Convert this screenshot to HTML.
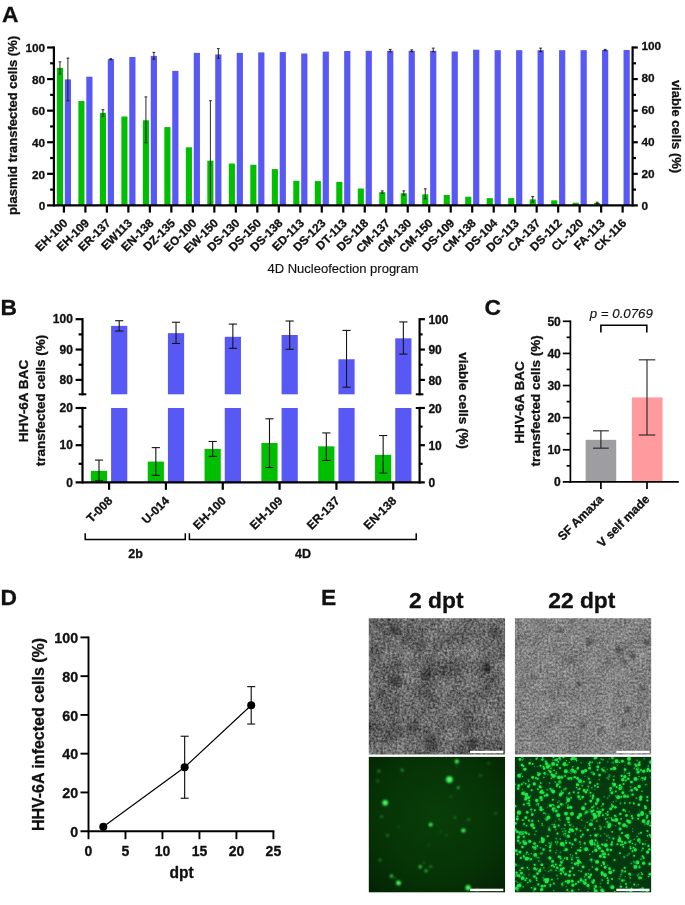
<!DOCTYPE html>
<html lang="en">
<head>
<meta charset="utf-8">
<title>Figure</title>
<style>
html,body{margin:0;padding:0;background:#fff;}
body{width:685px;height:905px;overflow:hidden;}
svg{display:block;will-change:transform;}
svg text{font-family:"Liberation Sans",sans-serif;fill:#111;stroke:#111;stroke-width:0.3px;stroke-linejoin:round;}
svg text.r{stroke-width:0.15px;}
</style>
</head>
<body>
<svg width="685" height="905" viewBox="0 0 685 905">
<rect x="0" y="0" width="685" height="905" fill="#fff"/>
<defs>
<filter id="noiseA" x="0" y="0" width="100%" height="100%" color-interpolation-filters="sRGB">
  <feTurbulence type="fractalNoise" baseFrequency="0.42" numOctaves="2" seed="3"/>
  <feColorMatrix type="matrix" values="0.6 0 0 0 -0.045  0.6 0 0 0 -0.045  0.6 0 0 0 -0.045  0 0 0 0 1" result="hi"/>
  <feTurbulence type="fractalNoise" baseFrequency="0.05" numOctaves="2" seed="8"/>
  <feColorMatrix type="matrix" values="0 0.3 0 0 0  0 0.3 0 0 0  0 0.3 0 0 0  0 0 0 0 1" result="lo"/>
  <feComposite in="hi" in2="lo" operator="arithmetic" k1="0" k2="1" k3="1" k4="0"/>
</filter>
<filter id="noiseB" x="0" y="0" width="100%" height="100%" color-interpolation-filters="sRGB">
  <feTurbulence type="fractalNoise" baseFrequency="0.45" numOctaves="2" seed="11"/>
  <feColorMatrix type="matrix" values="0.5 0 0 0 0.175  0.5 0 0 0 0.175  0.5 0 0 0 0.175  0 0 0 0 1" result="hi"/>
  <feTurbulence type="fractalNoise" baseFrequency="0.06" numOctaves="2" seed="5"/>
  <feColorMatrix type="matrix" values="0 0.16 0 0 0  0 0.16 0 0 0  0 0.16 0 0 0  0 0 0 0 1" result="lo"/>
  <feComposite in="hi" in2="lo" operator="arithmetic" k1="0" k2="1" k3="1" k4="0"/>
</filter>
<filter id="soft" x="-5%" y="-5%" width="110%" height="110%"><feGaussianBlur stdDeviation="1.6"/></filter>
<filter id="glow" x="-5%" y="-5%" width="110%" height="110%"><feGaussianBlur stdDeviation="0.9"/></filter>
<filter id="glow2" x="-5%" y="-5%" width="110%" height="110%"><feGaussianBlur in="SourceGraphic" stdDeviation="1.3" result="b"/><feComponentTransfer in="b" result="b2"><feFuncA type="linear" slope="0.55"/></feComponentTransfer><feGaussianBlur in="SourceGraphic" stdDeviation="0.5" result="a"/><feMerge><feMergeNode in="b2"/><feMergeNode in="a"/></feMerge></filter>
<radialGradient id="gbgA" cx="50%" cy="45%" r="75%">
  <stop offset="0" stop-color="#083d08"/><stop offset="0.6" stop-color="#063306"/><stop offset="1" stop-color="#042204"/>
</radialGradient>
<clipPath id="clipTL"><rect x="368.8" y="618.3" width="136.25" height="136.1"/></clipPath>
<clipPath id="clipTR"><rect x="514.9" y="618.3" width="136.25" height="136.1"/></clipPath>
<clipPath id="clipBR"><rect x="514.9" y="756.9" width="136.25" height="135.4"/></clipPath>
</defs>
<g id="panelA">
<text x="2" y="21.7" font-size="22.8" font-weight="bold" text-anchor="start">A</text>
<rect x="56.9" y="67.87" width="6.1" height="137.53" fill="#00be00"/>
<rect x="64.8" y="79.4" width="6.2" height="126" fill="#5858f5"/>
<rect x="78.39" y="101.03" width="6.1" height="104.37" fill="#00be00"/>
<rect x="86.29" y="76.71" width="6.2" height="128.69" fill="#5858f5"/>
<rect x="99.88" y="112.87" width="6.1" height="92.53" fill="#00be00"/>
<rect x="107.78" y="59.18" width="6.2" height="146.22" fill="#5858f5"/>
<rect x="121.37" y="116.5" width="6.1" height="88.9" fill="#00be00"/>
<rect x="129.27" y="56.97" width="6.2" height="148.43" fill="#5858f5"/>
<rect x="142.86" y="120.29" width="6.1" height="85.11" fill="#00be00"/>
<rect x="150.76" y="55.87" width="6.2" height="149.53" fill="#5858f5"/>
<rect x="164.35" y="127.08" width="6.1" height="78.32" fill="#00be00"/>
<rect x="172.25" y="70.87" width="6.2" height="134.53" fill="#5858f5"/>
<rect x="185.84" y="147.29" width="6.1" height="58.11" fill="#00be00"/>
<rect x="193.74" y="52.87" width="6.2" height="152.53" fill="#5858f5"/>
<rect x="207.33" y="160.71" width="6.1" height="44.69" fill="#00be00"/>
<rect x="215.23" y="54.45" width="6.2" height="150.95" fill="#5858f5"/>
<rect x="228.82" y="163.56" width="6.1" height="41.84" fill="#00be00"/>
<rect x="236.72" y="52.87" width="6.2" height="152.53" fill="#5858f5"/>
<rect x="250.31" y="164.82" width="6.1" height="40.58" fill="#00be00"/>
<rect x="258.21" y="52.39" width="6.2" height="153.01" fill="#5858f5"/>
<rect x="271.8" y="169.08" width="6.1" height="36.32" fill="#00be00"/>
<rect x="279.7" y="52.08" width="6.2" height="153.32" fill="#5858f5"/>
<rect x="293.29" y="180.77" width="6.1" height="24.63" fill="#00be00"/>
<rect x="301.19" y="53.5" width="6.2" height="151.9" fill="#5858f5"/>
<rect x="314.78" y="181.08" width="6.1" height="24.32" fill="#00be00"/>
<rect x="322.68" y="51.61" width="6.2" height="153.79" fill="#5858f5"/>
<rect x="336.27" y="181.87" width="6.1" height="23.53" fill="#00be00"/>
<rect x="344.17" y="50.97" width="6.2" height="154.43" fill="#5858f5"/>
<rect x="357.76" y="188.5" width="6.1" height="16.9" fill="#00be00"/>
<rect x="365.66" y="50.82" width="6.2" height="154.58" fill="#5858f5"/>
<rect x="379.25" y="192.14" width="6.1" height="13.26" fill="#00be00"/>
<rect x="387.15" y="50.82" width="6.2" height="154.58" fill="#5858f5"/>
<rect x="400.74" y="193.24" width="6.1" height="12.16" fill="#00be00"/>
<rect x="408.64" y="50.82" width="6.2" height="154.58" fill="#5858f5"/>
<rect x="422.23" y="194.35" width="6.1" height="11.05" fill="#00be00"/>
<rect x="430.13" y="50.82" width="6.2" height="154.58" fill="#5858f5"/>
<rect x="443.72" y="194.98" width="6.1" height="10.42" fill="#00be00"/>
<rect x="451.62" y="51.45" width="6.2" height="153.95" fill="#5858f5"/>
<rect x="465.21" y="196.72" width="6.1" height="8.68" fill="#00be00"/>
<rect x="473.11" y="49.71" width="6.2" height="155.69" fill="#5858f5"/>
<rect x="486.7" y="198.14" width="6.1" height="7.26" fill="#00be00"/>
<rect x="494.6" y="50.18" width="6.2" height="155.22" fill="#5858f5"/>
<rect x="508.19" y="198.14" width="6.1" height="7.26" fill="#00be00"/>
<rect x="516.09" y="50.18" width="6.2" height="155.22" fill="#5858f5"/>
<rect x="529.68" y="199.4" width="6.1" height="6" fill="#00be00"/>
<rect x="537.58" y="50.18" width="6.2" height="155.22" fill="#5858f5"/>
<rect x="551.17" y="200.35" width="6.1" height="5.05" fill="#00be00"/>
<rect x="559.07" y="50.18" width="6.2" height="155.22" fill="#5858f5"/>
<rect x="572.66" y="202.72" width="6.1" height="2.68" fill="#00be00"/>
<rect x="580.56" y="50.18" width="6.2" height="155.22" fill="#5858f5"/>
<rect x="594.15" y="202.87" width="6.1" height="2.53" fill="#00be00"/>
<rect x="602.05" y="50.03" width="6.2" height="155.37" fill="#5858f5"/>
<rect x="623.54" y="50.03" width="6.2" height="155.37" fill="#5858f5"/>
<line x1="59.95" y1="61.87" x2="59.95" y2="73.87" stroke="#141414" stroke-width="0.9" stroke-linecap="butt"/>
<line x1="58.55" y1="61.87" x2="61.35" y2="61.87" stroke="#141414" stroke-width="0.9" stroke-linecap="butt"/>
<line x1="58.55" y1="73.87" x2="61.35" y2="73.87" stroke="#141414" stroke-width="0.9" stroke-linecap="butt"/>
<line x1="102.93" y1="109.71" x2="102.93" y2="116.5" stroke="#141414" stroke-width="0.9" stroke-linecap="butt"/>
<line x1="101.53" y1="109.71" x2="104.33" y2="109.71" stroke="#141414" stroke-width="0.9" stroke-linecap="butt"/>
<line x1="101.53" y1="116.5" x2="104.33" y2="116.5" stroke="#141414" stroke-width="0.9" stroke-linecap="butt"/>
<line x1="145.91" y1="96.92" x2="145.91" y2="142.87" stroke="#141414" stroke-width="0.9" stroke-linecap="butt"/>
<line x1="144.51" y1="96.92" x2="147.31" y2="96.92" stroke="#141414" stroke-width="0.9" stroke-linecap="butt"/>
<line x1="144.51" y1="142.87" x2="147.31" y2="142.87" stroke="#141414" stroke-width="0.9" stroke-linecap="butt"/>
<line x1="210.38" y1="100.71" x2="210.38" y2="205.4" stroke="#141414" stroke-width="0.9" stroke-linecap="butt"/>
<line x1="208.98" y1="100.71" x2="211.78" y2="100.71" stroke="#141414" stroke-width="0.9" stroke-linecap="butt"/>
<line x1="382.3" y1="190.87" x2="382.3" y2="193.4" stroke="#141414" stroke-width="0.9" stroke-linecap="butt"/>
<line x1="380.9" y1="190.87" x2="383.7" y2="190.87" stroke="#141414" stroke-width="0.9" stroke-linecap="butt"/>
<line x1="380.9" y1="193.4" x2="383.7" y2="193.4" stroke="#141414" stroke-width="0.9" stroke-linecap="butt"/>
<line x1="403.79" y1="190.87" x2="403.79" y2="194.98" stroke="#141414" stroke-width="0.9" stroke-linecap="butt"/>
<line x1="402.39" y1="190.87" x2="405.19" y2="190.87" stroke="#141414" stroke-width="0.9" stroke-linecap="butt"/>
<line x1="402.39" y1="194.98" x2="405.19" y2="194.98" stroke="#141414" stroke-width="0.9" stroke-linecap="butt"/>
<line x1="425.28" y1="188.82" x2="425.28" y2="198.77" stroke="#141414" stroke-width="0.9" stroke-linecap="butt"/>
<line x1="423.88" y1="188.82" x2="426.68" y2="188.82" stroke="#141414" stroke-width="0.9" stroke-linecap="butt"/>
<line x1="423.88" y1="198.77" x2="426.68" y2="198.77" stroke="#141414" stroke-width="0.9" stroke-linecap="butt"/>
<line x1="532.73" y1="196.56" x2="532.73" y2="201.93" stroke="#141414" stroke-width="0.9" stroke-linecap="butt"/>
<line x1="531.33" y1="196.56" x2="534.13" y2="196.56" stroke="#141414" stroke-width="0.9" stroke-linecap="butt"/>
<line x1="531.33" y1="201.93" x2="534.13" y2="201.93" stroke="#141414" stroke-width="0.9" stroke-linecap="butt"/>
<line x1="597.2" y1="202.24" x2="597.2" y2="203.51" stroke="#141414" stroke-width="0.9" stroke-linecap="butt"/>
<line x1="595.8" y1="202.24" x2="598.6" y2="202.24" stroke="#141414" stroke-width="0.9" stroke-linecap="butt"/>
<line x1="595.8" y1="203.51" x2="598.6" y2="203.51" stroke="#141414" stroke-width="0.9" stroke-linecap="butt"/>
<line x1="67.9" y1="58.08" x2="67.9" y2="100.87" stroke="#141414" stroke-width="0.9" stroke-linecap="butt"/>
<line x1="66.5" y1="58.08" x2="69.3" y2="58.08" stroke="#141414" stroke-width="0.9" stroke-linecap="butt"/>
<line x1="66.5" y1="100.87" x2="69.3" y2="100.87" stroke="#141414" stroke-width="0.9" stroke-linecap="butt"/>
<line x1="110.88" y1="58.71" x2="110.88" y2="59.66" stroke="#141414" stroke-width="0.9" stroke-linecap="butt"/>
<line x1="109.48" y1="58.71" x2="112.28" y2="58.71" stroke="#141414" stroke-width="0.9" stroke-linecap="butt"/>
<line x1="109.48" y1="59.66" x2="112.28" y2="59.66" stroke="#141414" stroke-width="0.9" stroke-linecap="butt"/>
<line x1="153.86" y1="52.39" x2="153.86" y2="59.18" stroke="#141414" stroke-width="0.9" stroke-linecap="butt"/>
<line x1="152.46" y1="52.39" x2="155.26" y2="52.39" stroke="#141414" stroke-width="0.9" stroke-linecap="butt"/>
<line x1="152.46" y1="59.18" x2="155.26" y2="59.18" stroke="#141414" stroke-width="0.9" stroke-linecap="butt"/>
<line x1="218.33" y1="48.61" x2="218.33" y2="58.24" stroke="#141414" stroke-width="0.9" stroke-linecap="butt"/>
<line x1="216.93" y1="48.61" x2="219.73" y2="48.61" stroke="#141414" stroke-width="0.9" stroke-linecap="butt"/>
<line x1="216.93" y1="58.24" x2="219.73" y2="58.24" stroke="#141414" stroke-width="0.9" stroke-linecap="butt"/>
<line x1="390.25" y1="49.39" x2="390.25" y2="51.76" stroke="#141414" stroke-width="0.9" stroke-linecap="butt"/>
<line x1="388.85" y1="49.39" x2="391.65" y2="49.39" stroke="#141414" stroke-width="0.9" stroke-linecap="butt"/>
<line x1="388.85" y1="51.76" x2="391.65" y2="51.76" stroke="#141414" stroke-width="0.9" stroke-linecap="butt"/>
<line x1="411.74" y1="49.87" x2="411.74" y2="51.61" stroke="#141414" stroke-width="0.9" stroke-linecap="butt"/>
<line x1="410.34" y1="49.87" x2="413.14" y2="49.87" stroke="#141414" stroke-width="0.9" stroke-linecap="butt"/>
<line x1="410.34" y1="51.61" x2="413.14" y2="51.61" stroke="#141414" stroke-width="0.9" stroke-linecap="butt"/>
<line x1="433.23" y1="48.13" x2="433.23" y2="51.76" stroke="#141414" stroke-width="0.9" stroke-linecap="butt"/>
<line x1="431.83" y1="48.13" x2="434.63" y2="48.13" stroke="#141414" stroke-width="0.9" stroke-linecap="butt"/>
<line x1="431.83" y1="51.76" x2="434.63" y2="51.76" stroke="#141414" stroke-width="0.9" stroke-linecap="butt"/>
<line x1="540.68" y1="48.13" x2="540.68" y2="51.61" stroke="#141414" stroke-width="0.9" stroke-linecap="butt"/>
<line x1="539.28" y1="48.13" x2="542.08" y2="48.13" stroke="#141414" stroke-width="0.9" stroke-linecap="butt"/>
<line x1="539.28" y1="51.61" x2="542.08" y2="51.61" stroke="#141414" stroke-width="0.9" stroke-linecap="butt"/>
<line x1="605.15" y1="49.39" x2="605.15" y2="50.66" stroke="#141414" stroke-width="0.9" stroke-linecap="butt"/>
<line x1="603.75" y1="49.39" x2="606.55" y2="49.39" stroke="#141414" stroke-width="0.9" stroke-linecap="butt"/>
<line x1="603.75" y1="50.66" x2="606.55" y2="50.66" stroke="#141414" stroke-width="0.9" stroke-linecap="butt"/>
<line x1="53.9" y1="46.4" x2="53.9" y2="206.5" stroke="#000" stroke-width="2.2" stroke-linecap="butt"/>
<line x1="632.6" y1="46.4" x2="632.6" y2="206.5" stroke="#000" stroke-width="2.2" stroke-linecap="butt"/>
<line x1="47.1" y1="205.4" x2="637.8" y2="205.4" stroke="#000" stroke-width="2.2" stroke-linecap="butt"/>
<text x="45.2" y="210.3" font-size="11.8" font-weight="bold" text-anchor="end">0</text>
<text x="641.5" y="210" font-size="11.8" font-weight="bold" text-anchor="start">0</text>
<line x1="50.1" y1="189.61" x2="53.9" y2="189.61" stroke="#000" stroke-width="2.2" stroke-linecap="butt"/>
<line x1="632.6" y1="189.61" x2="636" y2="189.61" stroke="#000" stroke-width="2.2" stroke-linecap="butt"/>
<line x1="47.1" y1="173.82" x2="53.9" y2="173.82" stroke="#000" stroke-width="2.2" stroke-linecap="butt"/>
<line x1="632.6" y1="173.82" x2="637.8" y2="173.82" stroke="#000" stroke-width="2.2" stroke-linecap="butt"/>
<text x="45.2" y="178.64" font-size="11.8" font-weight="bold" text-anchor="end">20</text>
<text x="641.5" y="178.04" font-size="11.8" font-weight="bold" text-anchor="start">20</text>
<line x1="50.1" y1="158.03" x2="53.9" y2="158.03" stroke="#000" stroke-width="2.2" stroke-linecap="butt"/>
<line x1="632.6" y1="158.03" x2="636" y2="158.03" stroke="#000" stroke-width="2.2" stroke-linecap="butt"/>
<line x1="47.1" y1="142.24" x2="53.9" y2="142.24" stroke="#000" stroke-width="2.2" stroke-linecap="butt"/>
<line x1="632.6" y1="142.24" x2="637.8" y2="142.24" stroke="#000" stroke-width="2.2" stroke-linecap="butt"/>
<text x="45.2" y="146.98" font-size="11.8" font-weight="bold" text-anchor="end">40</text>
<text x="641.5" y="146.08" font-size="11.8" font-weight="bold" text-anchor="start">40</text>
<line x1="50.1" y1="126.45" x2="53.9" y2="126.45" stroke="#000" stroke-width="2.2" stroke-linecap="butt"/>
<line x1="632.6" y1="126.45" x2="636" y2="126.45" stroke="#000" stroke-width="2.2" stroke-linecap="butt"/>
<line x1="47.1" y1="110.66" x2="53.9" y2="110.66" stroke="#000" stroke-width="2.2" stroke-linecap="butt"/>
<line x1="632.6" y1="110.66" x2="637.8" y2="110.66" stroke="#000" stroke-width="2.2" stroke-linecap="butt"/>
<text x="45.2" y="115.32" font-size="11.8" font-weight="bold" text-anchor="end">60</text>
<text x="641.5" y="114.12" font-size="11.8" font-weight="bold" text-anchor="start">60</text>
<line x1="50.1" y1="94.87" x2="53.9" y2="94.87" stroke="#000" stroke-width="2.2" stroke-linecap="butt"/>
<line x1="632.6" y1="94.87" x2="636" y2="94.87" stroke="#000" stroke-width="2.2" stroke-linecap="butt"/>
<line x1="47.1" y1="79.08" x2="53.9" y2="79.08" stroke="#000" stroke-width="2.2" stroke-linecap="butt"/>
<line x1="632.6" y1="79.08" x2="637.8" y2="79.08" stroke="#000" stroke-width="2.2" stroke-linecap="butt"/>
<text x="45.2" y="83.66" font-size="11.8" font-weight="bold" text-anchor="end">80</text>
<text x="641.5" y="82.16" font-size="11.8" font-weight="bold" text-anchor="start">80</text>
<line x1="50.1" y1="63.29" x2="53.9" y2="63.29" stroke="#000" stroke-width="2.2" stroke-linecap="butt"/>
<line x1="632.6" y1="63.29" x2="636" y2="63.29" stroke="#000" stroke-width="2.2" stroke-linecap="butt"/>
<line x1="47.1" y1="47.5" x2="53.9" y2="47.5" stroke="#000" stroke-width="2.2" stroke-linecap="butt"/>
<line x1="632.6" y1="47.5" x2="637.8" y2="47.5" stroke="#000" stroke-width="2.2" stroke-linecap="butt"/>
<text x="45.2" y="52" font-size="11.8" font-weight="bold" text-anchor="end">100</text>
<text x="641.5" y="50.2" font-size="11.8" font-weight="bold" text-anchor="start">100</text>
<line x1="63.9" y1="205.4" x2="63.9" y2="212.6" stroke="#000" stroke-width="2.2" stroke-linecap="butt"/>
<text x="68.4" y="223.8" font-size="11.8" font-weight="bold" text-anchor="end" transform="rotate(-45 68.4 223.8)">EH-100</text>
<line x1="85.39" y1="205.4" x2="85.39" y2="212.6" stroke="#000" stroke-width="2.2" stroke-linecap="butt"/>
<text x="89.89" y="223.8" font-size="11.8" font-weight="bold" text-anchor="end" transform="rotate(-45 89.89 223.8)">EH-109</text>
<line x1="106.88" y1="205.4" x2="106.88" y2="212.6" stroke="#000" stroke-width="2.2" stroke-linecap="butt"/>
<text x="111.38" y="223.8" font-size="11.8" font-weight="bold" text-anchor="end" transform="rotate(-45 111.38 223.8)">ER-137</text>
<line x1="128.37" y1="205.4" x2="128.37" y2="212.6" stroke="#000" stroke-width="2.2" stroke-linecap="butt"/>
<text x="132.87" y="223.8" font-size="11.8" font-weight="bold" text-anchor="end" transform="rotate(-45 132.87 223.8)">EW113</text>
<line x1="149.86" y1="205.4" x2="149.86" y2="212.6" stroke="#000" stroke-width="2.2" stroke-linecap="butt"/>
<text x="154.36" y="223.8" font-size="11.8" font-weight="bold" text-anchor="end" transform="rotate(-45 154.36 223.8)">EN-138</text>
<line x1="171.35" y1="205.4" x2="171.35" y2="212.6" stroke="#000" stroke-width="2.2" stroke-linecap="butt"/>
<text x="175.85" y="223.8" font-size="11.8" font-weight="bold" text-anchor="end" transform="rotate(-45 175.85 223.8)">DZ-135</text>
<line x1="192.84" y1="205.4" x2="192.84" y2="212.6" stroke="#000" stroke-width="2.2" stroke-linecap="butt"/>
<text x="197.34" y="223.8" font-size="11.8" font-weight="bold" text-anchor="end" transform="rotate(-45 197.34 223.8)">EO-100</text>
<line x1="214.33" y1="205.4" x2="214.33" y2="212.6" stroke="#000" stroke-width="2.2" stroke-linecap="butt"/>
<text x="218.83" y="223.8" font-size="11.8" font-weight="bold" text-anchor="end" transform="rotate(-45 218.83 223.8)">EW-150</text>
<line x1="235.82" y1="205.4" x2="235.82" y2="212.6" stroke="#000" stroke-width="2.2" stroke-linecap="butt"/>
<text x="240.32" y="223.8" font-size="11.8" font-weight="bold" text-anchor="end" transform="rotate(-45 240.32 223.8)">DS-130</text>
<line x1="257.31" y1="205.4" x2="257.31" y2="212.6" stroke="#000" stroke-width="2.2" stroke-linecap="butt"/>
<text x="261.81" y="223.8" font-size="11.8" font-weight="bold" text-anchor="end" transform="rotate(-45 261.81 223.8)">DS-150</text>
<line x1="278.8" y1="205.4" x2="278.8" y2="212.6" stroke="#000" stroke-width="2.2" stroke-linecap="butt"/>
<text x="283.3" y="223.8" font-size="11.8" font-weight="bold" text-anchor="end" transform="rotate(-45 283.3 223.8)">DS-138</text>
<line x1="300.29" y1="205.4" x2="300.29" y2="212.6" stroke="#000" stroke-width="2.2" stroke-linecap="butt"/>
<text x="304.79" y="223.8" font-size="11.8" font-weight="bold" text-anchor="end" transform="rotate(-45 304.79 223.8)">ED-113</text>
<line x1="321.78" y1="205.4" x2="321.78" y2="212.6" stroke="#000" stroke-width="2.2" stroke-linecap="butt"/>
<text x="326.28" y="223.8" font-size="11.8" font-weight="bold" text-anchor="end" transform="rotate(-45 326.28 223.8)">DS-123</text>
<line x1="343.27" y1="205.4" x2="343.27" y2="212.6" stroke="#000" stroke-width="2.2" stroke-linecap="butt"/>
<text x="347.77" y="223.8" font-size="11.8" font-weight="bold" text-anchor="end" transform="rotate(-45 347.77 223.8)">DT-113</text>
<line x1="364.76" y1="205.4" x2="364.76" y2="212.6" stroke="#000" stroke-width="2.2" stroke-linecap="butt"/>
<text x="369.26" y="223.8" font-size="11.8" font-weight="bold" text-anchor="end" transform="rotate(-45 369.26 223.8)">DS-118</text>
<line x1="386.25" y1="205.4" x2="386.25" y2="212.6" stroke="#000" stroke-width="2.2" stroke-linecap="butt"/>
<text x="390.75" y="223.8" font-size="11.8" font-weight="bold" text-anchor="end" transform="rotate(-45 390.75 223.8)">CM-137</text>
<line x1="407.74" y1="205.4" x2="407.74" y2="212.6" stroke="#000" stroke-width="2.2" stroke-linecap="butt"/>
<text x="412.24" y="223.8" font-size="11.8" font-weight="bold" text-anchor="end" transform="rotate(-45 412.24 223.8)">CM-130</text>
<line x1="429.23" y1="205.4" x2="429.23" y2="212.6" stroke="#000" stroke-width="2.2" stroke-linecap="butt"/>
<text x="433.73" y="223.8" font-size="11.8" font-weight="bold" text-anchor="end" transform="rotate(-45 433.73 223.8)">CM-150</text>
<line x1="450.72" y1="205.4" x2="450.72" y2="212.6" stroke="#000" stroke-width="2.2" stroke-linecap="butt"/>
<text x="455.22" y="223.8" font-size="11.8" font-weight="bold" text-anchor="end" transform="rotate(-45 455.22 223.8)">DS-109</text>
<line x1="472.21" y1="205.4" x2="472.21" y2="212.6" stroke="#000" stroke-width="2.2" stroke-linecap="butt"/>
<text x="476.71" y="223.8" font-size="11.8" font-weight="bold" text-anchor="end" transform="rotate(-45 476.71 223.8)">CM-138</text>
<line x1="493.7" y1="205.4" x2="493.7" y2="212.6" stroke="#000" stroke-width="2.2" stroke-linecap="butt"/>
<text x="498.2" y="223.8" font-size="11.8" font-weight="bold" text-anchor="end" transform="rotate(-45 498.2 223.8)">DS-104</text>
<line x1="515.19" y1="205.4" x2="515.19" y2="212.6" stroke="#000" stroke-width="2.2" stroke-linecap="butt"/>
<text x="519.69" y="223.8" font-size="11.8" font-weight="bold" text-anchor="end" transform="rotate(-45 519.69 223.8)">DG-113</text>
<line x1="536.68" y1="205.4" x2="536.68" y2="212.6" stroke="#000" stroke-width="2.2" stroke-linecap="butt"/>
<text x="541.18" y="223.8" font-size="11.8" font-weight="bold" text-anchor="end" transform="rotate(-45 541.18 223.8)">CA-137</text>
<line x1="558.17" y1="205.4" x2="558.17" y2="212.6" stroke="#000" stroke-width="2.2" stroke-linecap="butt"/>
<text x="562.67" y="223.8" font-size="11.8" font-weight="bold" text-anchor="end" transform="rotate(-45 562.67 223.8)">DS-112</text>
<line x1="579.66" y1="205.4" x2="579.66" y2="212.6" stroke="#000" stroke-width="2.2" stroke-linecap="butt"/>
<text x="584.16" y="223.8" font-size="11.8" font-weight="bold" text-anchor="end" transform="rotate(-45 584.16 223.8)">CL-120</text>
<line x1="601.15" y1="205.4" x2="601.15" y2="212.6" stroke="#000" stroke-width="2.2" stroke-linecap="butt"/>
<text x="605.65" y="223.8" font-size="11.8" font-weight="bold" text-anchor="end" transform="rotate(-45 605.65 223.8)">FA-113</text>
<line x1="622.64" y1="205.4" x2="622.64" y2="212.6" stroke="#000" stroke-width="2.2" stroke-linecap="butt"/>
<text x="627.14" y="223.8" font-size="11.8" font-weight="bold" text-anchor="end" transform="rotate(-45 627.14 223.8)">CK-116</text>
<text x="16.8" y="125.5" font-size="13" font-weight="bold" text-anchor="middle" transform="rotate(-90 16.8 125.5)">plasmid transfected cells (%)</text>
<text x="671.5" y="126.5" font-size="13" font-weight="bold" text-anchor="middle" transform="rotate(90 671.5 126.5)">viable cells (%)</text>
<text x="343" y="273.1" font-size="13" font-weight="normal" text-anchor="middle" class="r">4D Nucleofection program</text>
</g>
<g id="panelB">
<text x="0.4" y="314.5" font-size="22.8" font-weight="bold" text-anchor="start">B</text>
<rect x="90.9" y="470.87" width="16.2" height="11.53" fill="#00be00"/>
<rect x="111.1" y="325.88" width="16.2" height="68.42" fill="#5858f5"/>
<rect x="111.1" y="408" width="16.2" height="74.4" fill="#5858f5"/>
<line x1="99" y1="460.08" x2="99" y2="480.91" stroke="#141414" stroke-width="1.1" stroke-linecap="butt"/>
<line x1="94.9" y1="460.08" x2="103.1" y2="460.08" stroke="#141414" stroke-width="1.1" stroke-linecap="butt"/>
<line x1="94.9" y1="480.91" x2="103.1" y2="480.91" stroke="#141414" stroke-width="1.1" stroke-linecap="butt"/>
<line x1="119.2" y1="320.72" x2="119.2" y2="331.04" stroke="#141414" stroke-width="1.1" stroke-linecap="butt"/>
<line x1="115.1" y1="320.72" x2="123.3" y2="320.72" stroke="#141414" stroke-width="1.1" stroke-linecap="butt"/>
<line x1="115.1" y1="331.04" x2="123.3" y2="331.04" stroke="#141414" stroke-width="1.1" stroke-linecap="butt"/>
<rect x="147.73" y="461.57" width="16.2" height="20.83" fill="#00be00"/>
<rect x="167.93" y="333.16" width="16.2" height="61.14" fill="#5858f5"/>
<rect x="167.93" y="408" width="16.2" height="74.4" fill="#5858f5"/>
<line x1="155.83" y1="447.62" x2="155.83" y2="475.33" stroke="#141414" stroke-width="1.1" stroke-linecap="butt"/>
<line x1="151.73" y1="447.62" x2="159.93" y2="447.62" stroke="#141414" stroke-width="1.1" stroke-linecap="butt"/>
<line x1="151.73" y1="475.33" x2="159.93" y2="475.33" stroke="#141414" stroke-width="1.1" stroke-linecap="butt"/>
<line x1="176.03" y1="322.24" x2="176.03" y2="343.48" stroke="#141414" stroke-width="1.1" stroke-linecap="butt"/>
<line x1="171.93" y1="322.24" x2="180.13" y2="322.24" stroke="#141414" stroke-width="1.1" stroke-linecap="butt"/>
<line x1="171.93" y1="343.48" x2="180.13" y2="343.48" stroke="#141414" stroke-width="1.1" stroke-linecap="butt"/>
<rect x="204.56" y="448.92" width="16.2" height="33.48" fill="#00be00"/>
<rect x="224.76" y="336.8" width="16.2" height="57.5" fill="#5858f5"/>
<rect x="224.76" y="408" width="16.2" height="74.4" fill="#5858f5"/>
<line x1="212.66" y1="441.48" x2="212.66" y2="456.36" stroke="#141414" stroke-width="1.1" stroke-linecap="butt"/>
<line x1="208.56" y1="441.48" x2="216.76" y2="441.48" stroke="#141414" stroke-width="1.1" stroke-linecap="butt"/>
<line x1="208.56" y1="456.36" x2="216.76" y2="456.36" stroke="#141414" stroke-width="1.1" stroke-linecap="butt"/>
<line x1="232.86" y1="324.06" x2="232.86" y2="348.34" stroke="#141414" stroke-width="1.1" stroke-linecap="butt"/>
<line x1="228.76" y1="324.06" x2="236.96" y2="324.06" stroke="#141414" stroke-width="1.1" stroke-linecap="butt"/>
<line x1="228.76" y1="348.34" x2="236.96" y2="348.34" stroke="#141414" stroke-width="1.1" stroke-linecap="butt"/>
<rect x="261.39" y="442.97" width="16.2" height="39.43" fill="#00be00"/>
<rect x="281.59" y="334.98" width="16.2" height="59.32" fill="#5858f5"/>
<rect x="281.59" y="408" width="16.2" height="74.4" fill="#5858f5"/>
<line x1="269.49" y1="418.79" x2="269.49" y2="467.52" stroke="#141414" stroke-width="1.1" stroke-linecap="butt"/>
<line x1="265.39" y1="418.79" x2="273.59" y2="418.79" stroke="#141414" stroke-width="1.1" stroke-linecap="butt"/>
<line x1="265.39" y1="467.52" x2="273.59" y2="467.52" stroke="#141414" stroke-width="1.1" stroke-linecap="butt"/>
<line x1="289.69" y1="321.02" x2="289.69" y2="349.25" stroke="#141414" stroke-width="1.1" stroke-linecap="butt"/>
<line x1="285.59" y1="321.02" x2="293.79" y2="321.02" stroke="#141414" stroke-width="1.1" stroke-linecap="butt"/>
<line x1="285.59" y1="349.25" x2="293.79" y2="349.25" stroke="#141414" stroke-width="1.1" stroke-linecap="butt"/>
<rect x="318.22" y="446.32" width="16.2" height="36.08" fill="#00be00"/>
<rect x="338.42" y="359.26" width="16.2" height="35.04" fill="#5858f5"/>
<rect x="338.42" y="408" width="16.2" height="74.4" fill="#5858f5"/>
<line x1="326.32" y1="432.92" x2="326.32" y2="460.45" stroke="#141414" stroke-width="1.1" stroke-linecap="butt"/>
<line x1="322.22" y1="432.92" x2="330.42" y2="432.92" stroke="#141414" stroke-width="1.1" stroke-linecap="butt"/>
<line x1="322.22" y1="460.45" x2="330.42" y2="460.45" stroke="#141414" stroke-width="1.1" stroke-linecap="butt"/>
<line x1="346.52" y1="330.43" x2="346.52" y2="387.18" stroke="#141414" stroke-width="1.1" stroke-linecap="butt"/>
<line x1="342.42" y1="330.43" x2="350.62" y2="330.43" stroke="#141414" stroke-width="1.1" stroke-linecap="butt"/>
<line x1="342.42" y1="387.18" x2="350.62" y2="387.18" stroke="#141414" stroke-width="1.1" stroke-linecap="butt"/>
<rect x="375.05" y="454.87" width="16.2" height="27.53" fill="#00be00"/>
<rect x="395.25" y="338.32" width="16.2" height="55.98" fill="#5858f5"/>
<rect x="395.25" y="408" width="16.2" height="74.4" fill="#5858f5"/>
<line x1="383.15" y1="435.53" x2="383.15" y2="473.1" stroke="#141414" stroke-width="1.1" stroke-linecap="butt"/>
<line x1="379.05" y1="435.53" x2="387.25" y2="435.53" stroke="#141414" stroke-width="1.1" stroke-linecap="butt"/>
<line x1="379.05" y1="473.1" x2="387.25" y2="473.1" stroke="#141414" stroke-width="1.1" stroke-linecap="butt"/>
<line x1="403.35" y1="321.93" x2="403.35" y2="354.1" stroke="#141414" stroke-width="1.1" stroke-linecap="butt"/>
<line x1="399.25" y1="321.93" x2="407.45" y2="321.93" stroke="#141414" stroke-width="1.1" stroke-linecap="butt"/>
<line x1="399.25" y1="354.1" x2="407.45" y2="354.1" stroke="#141414" stroke-width="1.1" stroke-linecap="butt"/>
<line x1="82.5" y1="318.1" x2="82.5" y2="395.3" stroke="#000" stroke-width="2.2" stroke-linecap="butt"/>
<line x1="82.5" y1="406.9" x2="82.5" y2="483.5" stroke="#000" stroke-width="2.2" stroke-linecap="butt"/>
<line x1="78.7" y1="394.3" x2="86.3" y2="394.3" stroke="#000" stroke-width="2" stroke-linecap="butt"/>
<line x1="78.7" y1="408" x2="86.3" y2="408" stroke="#000" stroke-width="2" stroke-linecap="butt"/>
<line x1="82.5" y1="319.2" x2="75.6" y2="319.2" stroke="#000" stroke-width="2.2" stroke-linecap="butt"/>
<line x1="82.5" y1="349.55" x2="75.6" y2="349.55" stroke="#000" stroke-width="2.2" stroke-linecap="butt"/>
<line x1="82.5" y1="379.9" x2="75.6" y2="379.9" stroke="#000" stroke-width="2.2" stroke-linecap="butt"/>
<line x1="82.5" y1="334.38" x2="78.6" y2="334.38" stroke="#000" stroke-width="2.2" stroke-linecap="butt"/>
<line x1="82.5" y1="364.73" x2="78.6" y2="364.73" stroke="#000" stroke-width="2.2" stroke-linecap="butt"/>
<line x1="82.5" y1="408" x2="75.6" y2="408" stroke="#000" stroke-width="2.2" stroke-linecap="butt"/>
<line x1="82.5" y1="445.2" x2="75.6" y2="445.2" stroke="#000" stroke-width="2.2" stroke-linecap="butt"/>
<line x1="82.5" y1="426.6" x2="78.6" y2="426.6" stroke="#000" stroke-width="2.2" stroke-linecap="butt"/>
<line x1="82.5" y1="463.8" x2="78.6" y2="463.8" stroke="#000" stroke-width="2.2" stroke-linecap="butt"/>
<line x1="419.6" y1="318.1" x2="419.6" y2="395.3" stroke="#000" stroke-width="2.2" stroke-linecap="butt"/>
<line x1="419.6" y1="406.9" x2="419.6" y2="483.5" stroke="#000" stroke-width="2.2" stroke-linecap="butt"/>
<line x1="415.8" y1="394.3" x2="423.4" y2="394.3" stroke="#000" stroke-width="2" stroke-linecap="butt"/>
<line x1="415.8" y1="408" x2="423.4" y2="408" stroke="#000" stroke-width="2" stroke-linecap="butt"/>
<line x1="419.6" y1="319.2" x2="424.9" y2="319.2" stroke="#000" stroke-width="2.2" stroke-linecap="butt"/>
<line x1="419.6" y1="349.55" x2="424.9" y2="349.55" stroke="#000" stroke-width="2.2" stroke-linecap="butt"/>
<line x1="419.6" y1="379.9" x2="424.9" y2="379.9" stroke="#000" stroke-width="2.2" stroke-linecap="butt"/>
<line x1="419.6" y1="334.38" x2="422.6" y2="334.38" stroke="#000" stroke-width="2.2" stroke-linecap="butt"/>
<line x1="419.6" y1="364.73" x2="422.6" y2="364.73" stroke="#000" stroke-width="2.2" stroke-linecap="butt"/>
<line x1="419.6" y1="408" x2="424.9" y2="408" stroke="#000" stroke-width="2.2" stroke-linecap="butt"/>
<line x1="419.6" y1="445.2" x2="424.9" y2="445.2" stroke="#000" stroke-width="2.2" stroke-linecap="butt"/>
<line x1="419.6" y1="426.6" x2="422.6" y2="426.6" stroke="#000" stroke-width="2.2" stroke-linecap="butt"/>
<line x1="419.6" y1="463.8" x2="422.6" y2="463.8" stroke="#000" stroke-width="2.2" stroke-linecap="butt"/>
<line x1="75.6" y1="482.4" x2="424.8" y2="482.4" stroke="#000" stroke-width="2.2" stroke-linecap="butt"/>
<text x="72.9" y="323.4" font-size="12" font-weight="bold" text-anchor="end">100</text>
<text x="428.4" y="323.9" font-size="12" font-weight="bold" text-anchor="start">100</text>
<text x="72.9" y="353.75" font-size="12" font-weight="bold" text-anchor="end">90</text>
<text x="428.4" y="354.25" font-size="12" font-weight="bold" text-anchor="start">90</text>
<text x="72.9" y="384.1" font-size="12" font-weight="bold" text-anchor="end">80</text>
<text x="428.4" y="384.6" font-size="12" font-weight="bold" text-anchor="start">80</text>
<text x="72.9" y="412.2" font-size="12" font-weight="bold" text-anchor="end">20</text>
<text x="428.4" y="412.7" font-size="12" font-weight="bold" text-anchor="start">20</text>
<text x="72.9" y="449.4" font-size="12" font-weight="bold" text-anchor="end">10</text>
<text x="428.4" y="449.9" font-size="12" font-weight="bold" text-anchor="start">10</text>
<text x="72.9" y="486.6" font-size="12" font-weight="bold" text-anchor="end">0</text>
<text x="428.4" y="487.1" font-size="12" font-weight="bold" text-anchor="start">0</text>
<line x1="109.1" y1="482.4" x2="109.1" y2="489.8" stroke="#000" stroke-width="2.2" stroke-linecap="butt"/>
<text x="113.1" y="501.5" font-size="12" font-weight="bold" text-anchor="end" transform="rotate(-45 113.1 501.5)">T-008</text>
<line x1="165.93" y1="482.4" x2="165.93" y2="489.8" stroke="#000" stroke-width="2.2" stroke-linecap="butt"/>
<text x="169.93" y="501.5" font-size="12" font-weight="bold" text-anchor="end" transform="rotate(-45 169.93 501.5)">U-014</text>
<line x1="222.76" y1="482.4" x2="222.76" y2="489.8" stroke="#000" stroke-width="2.2" stroke-linecap="butt"/>
<text x="226.76" y="501.5" font-size="12" font-weight="bold" text-anchor="end" transform="rotate(-45 226.76 501.5)">EH-100</text>
<line x1="279.59" y1="482.4" x2="279.59" y2="489.8" stroke="#000" stroke-width="2.2" stroke-linecap="butt"/>
<text x="283.59" y="501.5" font-size="12" font-weight="bold" text-anchor="end" transform="rotate(-45 283.59 501.5)">EH-109</text>
<line x1="336.42" y1="482.4" x2="336.42" y2="489.8" stroke="#000" stroke-width="2.2" stroke-linecap="butt"/>
<text x="340.42" y="501.5" font-size="12" font-weight="bold" text-anchor="end" transform="rotate(-45 340.42 501.5)">ER-137</text>
<line x1="393.25" y1="482.4" x2="393.25" y2="489.8" stroke="#000" stroke-width="2.2" stroke-linecap="butt"/>
<text x="397.25" y="501.5" font-size="12" font-weight="bold" text-anchor="end" transform="rotate(-45 397.25 501.5)">EN-138</text>
<text x="28.4" y="401" font-size="13.6" font-weight="bold" text-anchor="middle" transform="rotate(-90 28.4 401)">HHV-6A BAC</text>
<text x="44.7" y="400.5" font-size="13.5" font-weight="bold" text-anchor="middle" transform="rotate(-90 44.7 400.5)">transfected cells (%)</text>
<text x="459.4" y="400.6" font-size="13.5" font-weight="bold" text-anchor="middle" transform="rotate(90 459.4 400.6)">viable cells (%)</text>
<polyline points="85.2,533.2 85.2,539.6 185.3,539.6 185.3,533.2" fill="none" stroke="#000" stroke-width="1.5"/>
<polyline points="189.4,533.2 189.4,539.6 416.2,539.6 416.2,533.2" fill="none" stroke="#000" stroke-width="1.5"/>
<text x="135.6" y="558" font-size="12.5" font-weight="bold" text-anchor="middle">2b</text>
<text x="303" y="558" font-size="12.5" font-weight="bold" text-anchor="middle">4D</text>
</g>
<g id="panelC">
<text x="484.5" y="314.8" font-size="22.8" font-weight="bold" text-anchor="start">C</text>
<rect x="585.6" y="439.82" width="30.6" height="42.08" fill="#9e9ea2"/>
<rect x="631.9" y="397.42" width="30.6" height="84.48" fill="#ff9a9e"/>
<line x1="600.9" y1="430.83" x2="600.9" y2="448.17" stroke="#222" stroke-width="1.1" stroke-linecap="butt"/>
<line x1="593" y1="430.83" x2="608.8" y2="430.83" stroke="#222" stroke-width="1.1" stroke-linecap="butt"/>
<line x1="593" y1="448.17" x2="608.8" y2="448.17" stroke="#222" stroke-width="1.1" stroke-linecap="butt"/>
<line x1="647" y1="359.84" x2="647" y2="435" stroke="#222" stroke-width="1.1" stroke-linecap="butt"/>
<line x1="638.75" y1="359.84" x2="655.25" y2="359.84" stroke="#222" stroke-width="1.1" stroke-linecap="butt"/>
<line x1="638.75" y1="435" x2="655.25" y2="435" stroke="#222" stroke-width="1.1" stroke-linecap="butt"/>
<line x1="570.4" y1="320.45" x2="570.4" y2="482.75" stroke="#000" stroke-width="1.7" stroke-linecap="butt"/>
<line x1="562.8" y1="481.9" x2="678.8" y2="481.9" stroke="#000" stroke-width="1.7" stroke-linecap="butt"/>
<text x="560.8" y="486.1" font-size="12" font-weight="bold" text-anchor="end">0</text>
<line x1="566.6" y1="465.84" x2="570.4" y2="465.84" stroke="#000" stroke-width="1.7" stroke-linecap="butt"/>
<line x1="562.8" y1="449.78" x2="570.4" y2="449.78" stroke="#000" stroke-width="1.7" stroke-linecap="butt"/>
<text x="560.8" y="453.98" font-size="12" font-weight="bold" text-anchor="end">10</text>
<line x1="566.6" y1="433.72" x2="570.4" y2="433.72" stroke="#000" stroke-width="1.7" stroke-linecap="butt"/>
<line x1="562.8" y1="417.66" x2="570.4" y2="417.66" stroke="#000" stroke-width="1.7" stroke-linecap="butt"/>
<text x="560.8" y="421.86" font-size="12" font-weight="bold" text-anchor="end">20</text>
<line x1="566.6" y1="401.6" x2="570.4" y2="401.6" stroke="#000" stroke-width="1.7" stroke-linecap="butt"/>
<line x1="562.8" y1="385.54" x2="570.4" y2="385.54" stroke="#000" stroke-width="1.7" stroke-linecap="butt"/>
<text x="560.8" y="389.74" font-size="12" font-weight="bold" text-anchor="end">30</text>
<line x1="566.6" y1="369.48" x2="570.4" y2="369.48" stroke="#000" stroke-width="1.7" stroke-linecap="butt"/>
<line x1="562.8" y1="353.42" x2="570.4" y2="353.42" stroke="#000" stroke-width="1.7" stroke-linecap="butt"/>
<text x="560.8" y="357.62" font-size="12" font-weight="bold" text-anchor="end">40</text>
<line x1="566.6" y1="337.36" x2="570.4" y2="337.36" stroke="#000" stroke-width="1.7" stroke-linecap="butt"/>
<line x1="562.8" y1="321.3" x2="570.4" y2="321.3" stroke="#000" stroke-width="1.7" stroke-linecap="butt"/>
<text x="560.8" y="325.5" font-size="12" font-weight="bold" text-anchor="end">50</text>
<line x1="600.9" y1="481.9" x2="600.9" y2="489.1" stroke="#000" stroke-width="1.7" stroke-linecap="butt"/>
<text x="604.1" y="500" font-size="12.2" font-weight="bold" text-anchor="end" transform="rotate(-45 604.1 500)">SF Amaxa</text>
<line x1="647" y1="481.9" x2="647" y2="489.1" stroke="#000" stroke-width="1.7" stroke-linecap="butt"/>
<text x="650.2" y="500" font-size="12.2" font-weight="bold" text-anchor="end" transform="rotate(-45 650.2 500)">V self made</text>
<polyline points="600.9,332.6 600.9,325.3 646.8,325.3 646.8,332.6" fill="none" stroke="#000" stroke-width="1.6"/>
<text x="621.3" y="317.8" font-size="13.3" font-weight="normal" text-anchor="middle" font-style="italic" class="r">p = 0.0769</text>
<text x="523.7" y="402.4" font-size="13.6" font-weight="bold" text-anchor="middle" transform="rotate(-90 523.7 402.4)">HHV-6A BAC</text>
<text x="539.6" y="400.8" font-size="13.5" font-weight="bold" text-anchor="middle" transform="rotate(-90 539.6 400.8)">transfected cells (%)</text>
</g>
<g id="panelD">
<text x="0.4" y="604.5" font-size="22.8" font-weight="bold" text-anchor="start">D</text>
<polyline points="103.29,826.74 184.65,767.25 251.21,705.23" fill="none" stroke="#000" stroke-width="1.15"/>
<line x1="184.65" y1="736.24" x2="184.65" y2="798.25" stroke="#111" stroke-width="1.15" stroke-linecap="butt"/>
<line x1="180.65" y1="736.24" x2="188.65" y2="736.24" stroke="#111" stroke-width="1.15" stroke-linecap="butt"/>
<line x1="180.65" y1="798.25" x2="188.65" y2="798.25" stroke="#111" stroke-width="1.15" stroke-linecap="butt"/>
<line x1="251.21" y1="686.63" x2="251.21" y2="724.03" stroke="#111" stroke-width="1.15" stroke-linecap="butt"/>
<line x1="247.21" y1="686.63" x2="255.21" y2="686.63" stroke="#111" stroke-width="1.15" stroke-linecap="butt"/>
<line x1="247.21" y1="724.03" x2="255.21" y2="724.03" stroke="#111" stroke-width="1.15" stroke-linecap="butt"/>
<circle cx="103.29" cy="826.74" r="4" fill="#000"/>
<circle cx="184.65" cy="767.25" r="4" fill="#000"/>
<circle cx="251.21" cy="705.23" r="4" fill="#000"/>
<line x1="88.5" y1="636.45" x2="88.5" y2="832.15" stroke="#000" stroke-width="1.9" stroke-linecap="butt"/>
<line x1="80.5" y1="831.2" x2="274.35" y2="831.2" stroke="#000" stroke-width="1.9" stroke-linecap="butt"/>
<text x="78.1" y="836.8" font-size="14.3" font-weight="bold" text-anchor="end">0</text>
<line x1="80.5" y1="792.44" x2="88.5" y2="792.44" stroke="#000" stroke-width="1.9" stroke-linecap="butt"/>
<text x="78.1" y="798.04" font-size="14.3" font-weight="bold" text-anchor="end">20</text>
<line x1="80.5" y1="753.68" x2="88.5" y2="753.68" stroke="#000" stroke-width="1.9" stroke-linecap="butt"/>
<text x="78.1" y="759.28" font-size="14.3" font-weight="bold" text-anchor="end">40</text>
<line x1="80.5" y1="714.92" x2="88.5" y2="714.92" stroke="#000" stroke-width="1.9" stroke-linecap="butt"/>
<text x="78.1" y="720.52" font-size="14.3" font-weight="bold" text-anchor="end">60</text>
<line x1="80.5" y1="676.16" x2="88.5" y2="676.16" stroke="#000" stroke-width="1.9" stroke-linecap="butt"/>
<text x="78.1" y="681.76" font-size="14.3" font-weight="bold" text-anchor="end">80</text>
<line x1="80.5" y1="637.4" x2="88.5" y2="637.4" stroke="#000" stroke-width="1.9" stroke-linecap="butt"/>
<text x="78.1" y="643" font-size="14.3" font-weight="bold" text-anchor="end">100</text>
<line x1="88.5" y1="831.2" x2="88.5" y2="839.2" stroke="#000" stroke-width="1.9" stroke-linecap="butt"/>
<text x="88.5" y="856" font-size="14" font-weight="bold" text-anchor="middle">0</text>
<line x1="125.48" y1="831.2" x2="125.48" y2="839.2" stroke="#000" stroke-width="1.9" stroke-linecap="butt"/>
<text x="125.48" y="856" font-size="14" font-weight="bold" text-anchor="middle">5</text>
<line x1="162.46" y1="831.2" x2="162.46" y2="839.2" stroke="#000" stroke-width="1.9" stroke-linecap="butt"/>
<text x="162.46" y="856" font-size="14" font-weight="bold" text-anchor="middle">10</text>
<line x1="199.44" y1="831.2" x2="199.44" y2="839.2" stroke="#000" stroke-width="1.9" stroke-linecap="butt"/>
<text x="199.44" y="856" font-size="14" font-weight="bold" text-anchor="middle">15</text>
<line x1="236.42" y1="831.2" x2="236.42" y2="839.2" stroke="#000" stroke-width="1.9" stroke-linecap="butt"/>
<text x="236.42" y="856" font-size="14" font-weight="bold" text-anchor="middle">20</text>
<line x1="273.4" y1="831.2" x2="273.4" y2="839.2" stroke="#000" stroke-width="1.9" stroke-linecap="butt"/>
<text x="273.4" y="856" font-size="14" font-weight="bold" text-anchor="middle">25</text>
<text x="44" y="734.5" font-size="16" font-weight="bold" text-anchor="middle" transform="rotate(-90 44 734.5)">HHV-6A infected cells (%)</text>
<text x="181.5" y="878.4" font-size="15.6" font-weight="bold" text-anchor="middle">dpt</text>
</g>
<g id="panelE">
<text x="321" y="604.5" font-size="22.8" font-weight="bold" text-anchor="start">E</text>
<text x="436.3" y="608.4" font-size="22.8" font-weight="bold" text-anchor="middle">2 dpt</text>
<text x="581.8" y="608.4" font-size="22.8" font-weight="bold" text-anchor="middle">22 dpt</text>
<g clip-path="url(#clipTL)"><rect x="365.8" y="615.3" width="142.25" height="142.1" fill="#6c6c6c" filter="url(#noiseA)"/></g>
<g clip-path="url(#clipTR)"><rect x="511.9" y="615.3" width="142.25" height="142.1" fill="#868686" filter="url(#noiseB)"/></g>
<g filter="url(#soft)" fill="#000">
<circle cx="394.8" cy="630.3" r="5" opacity="0.34"/>
<circle cx="420.8" cy="646.3" r="6" opacity="0.28"/>
<circle cx="486.8" cy="668.3" r="4.5" opacity="0.48"/>
<circle cx="396.8" cy="681.3" r="6" opacity="0.3"/>
<circle cx="426.8" cy="674.3" r="5" opacity="0.28"/>
<circle cx="413.8" cy="726.3" r="6" opacity="0.25"/>
<circle cx="430.8" cy="744.3" r="7" opacity="0.28"/>
<circle cx="472.8" cy="742.3" r="5" opacity="0.36"/>
<circle cx="380.8" cy="693.3" r="5" opacity="0.25"/>
<circle cx="452.8" cy="638.3" r="5" opacity="0.2"/>
<circle cx="494.8" cy="632.3" r="6" opacity="0.25"/>
<circle cx="463.8" cy="713.3" r="6" opacity="0.15"/>
<circle cx="388.8" cy="738.3" r="6" opacity="0.2"/>
<circle cx="588.9" cy="642.3" r="4" opacity="0.36"/>
<circle cx="618.9" cy="650.3" r="3" opacity="0.4"/>
<circle cx="632.9" cy="656.3" r="3.2" opacity="0.4"/>
<circle cx="624.9" cy="662.3" r="2.8" opacity="0.4"/>
<circle cx="578.9" cy="684.3" r="2.5" opacity="0.45"/>
<circle cx="627.9" cy="710.3" r="3" opacity="0.45"/>
<circle cx="582.9" cy="726.3" r="3" opacity="0.33"/>
<circle cx="622.9" cy="725.3" r="2.5" opacity="0.33"/>
<circle cx="570.9" cy="660.3" r="2.5" opacity="0.26"/>
<circle cx="646.9" cy="642.3" r="3" opacity="0.4"/>
<circle cx="642.9" cy="688.3" r="3" opacity="0.33"/>
<circle cx="560.9" cy="630.3" r="2" opacity="0.45"/>
<circle cx="600.9" cy="730.3" r="3" opacity="0.26"/>
<circle cx="534.9" cy="678.3" r="3" opacity="0.2"/>
<circle cx="550.9" cy="718.3" r="3" opacity="0.2"/>
</g>
<rect x="368.8" y="756.9" width="136.25" height="135.4" fill="url(#gbgA)"/>
<rect x="514.9" y="756.9" width="136.25" height="135.4" fill="#06380f"/>
<g filter="url(#glow)">
<circle cx="456.8" cy="761.6" r="2" fill="#46ff60" opacity="1"/>
<circle cx="449.4" cy="779.6" r="3.3" fill="#46ff60" opacity="1"/>
<circle cx="458.3" cy="787.7" r="1.2" fill="#46ff60" opacity="0.8"/>
<circle cx="385.2" cy="802.8" r="2.8" fill="#46ff60" opacity="1"/>
<circle cx="402.2" cy="770.2" r="1.4" fill="#46ff60" opacity="0.55"/>
<circle cx="378.8" cy="770.9" r="1.5" fill="#46ff60" opacity="0.45"/>
<circle cx="377.7" cy="780.9" r="1.4" fill="#46ff60" opacity="0.35"/>
<circle cx="430.7" cy="824.6" r="1.9" fill="#46ff60" opacity="1"/>
<circle cx="463.4" cy="830.5" r="2.1" fill="#46ff60" opacity="1"/>
<circle cx="455.2" cy="817.6" r="1.1" fill="#46ff60" opacity="0.5"/>
<circle cx="468.8" cy="819.5" r="1.2" fill="#46ff60" opacity="0.45"/>
<circle cx="420.2" cy="866.7" r="1.5" fill="#46ff60" opacity="0.95"/>
<circle cx="426" cy="870.9" r="1.3" fill="#46ff60" opacity="0.8"/>
<circle cx="430.7" cy="866.7" r="1.4" fill="#46ff60" opacity="0.4"/>
<circle cx="391.5" cy="876" r="1.5" fill="#46ff60" opacity="0.9"/>
<circle cx="398.5" cy="883" r="2.4" fill="#46ff60" opacity="1"/>
<circle cx="468.1" cy="887.7" r="2.6" fill="#46ff60" opacity="1"/>
<circle cx="380" cy="860.1" r="1.4" fill="#46ff60" opacity="0.45"/>
<circle cx="387.5" cy="835.2" r="1.3" fill="#46ff60" opacity="0.4"/>
<circle cx="382.1" cy="816.5" r="1.2" fill="#46ff60" opacity="0.3"/>
<circle cx="480.5" cy="775.6" r="1.4" fill="#46ff60" opacity="0.3"/>
<circle cx="488.6" cy="763.4" r="1.4" fill="#46ff60" opacity="0.25"/>
<circle cx="495.6" cy="813.4" r="1.3" fill="#46ff60" opacity="0.3"/>
<circle cx="446.4" cy="835.2" r="1" fill="#46ff60" opacity="0.3"/>
<circle cx="477.4" cy="890.3" r="1.3" fill="#46ff60" opacity="0.8"/>
<circle cx="456.8" cy="766.4" r="1" fill="#46ff60" opacity="0.3"/>
<circle cx="394.8" cy="877.9" r="1" fill="#46ff60" opacity="0.4"/>
<circle cx="423.8" cy="862.9" r="0.9" fill="#46ff60" opacity="0.4"/>
<circle cx="450.8" cy="796.9" r="1.3" fill="#46ff60" opacity="0.2"/>
<circle cx="398.8" cy="826.9" r="1" fill="#46ff60" opacity="0.2"/>
<circle cx="428.8" cy="844.9" r="1" fill="#46ff60" opacity="0.2"/>
<circle cx="440.8" cy="831.9" r="0.9" fill="#46ff60" opacity="0.25"/>
<circle cx="381.3" cy="816.9" r="1.2" fill="#46ff60" opacity="0.25"/>
</g>
<g clip-path="url(#clipBR)"><g filter="url(#glow2)" fill="#22e648">
<circle cx="559.02" cy="777.32" r="1.9"/>
<circle cx="521.48" cy="868.1" r="0.8"/>
<circle cx="564.73" cy="764.75" r="1.4"/>
<circle cx="544.15" cy="768.54" r="1.2"/>
<circle cx="524.42" cy="769.18" r="1.2"/>
<circle cx="522.95" cy="833.46" r="1"/>
<circle cx="600.82" cy="835.84" r="0.7"/>
<circle cx="593.53" cy="810.61" r="1"/>
<circle cx="521.25" cy="873.14" r="1"/>
<circle cx="572.01" cy="830.11" r="1.6"/>
<circle cx="556.93" cy="867.4" r="0.9"/>
<circle cx="528.94" cy="834.24" r="1"/>
<circle cx="565.64" cy="831.06" r="0.8"/>
<circle cx="591.8" cy="840.71" r="1.3"/>
<circle cx="607.6" cy="814.8" r="1.1"/>
<circle cx="578.34" cy="881.93" r="1.1"/>
<circle cx="555.74" cy="864.46" r="1"/>
<circle cx="526.05" cy="797.55" r="1.3"/>
<circle cx="634.14" cy="855.67" r="1"/>
<circle cx="597.87" cy="766.81" r="1.4"/>
<circle cx="571.87" cy="859.42" r="0.9"/>
<circle cx="642.06" cy="814" r="1.9"/>
<circle cx="525.48" cy="832.46" r="1.1"/>
<circle cx="561.24" cy="804.31" r="1.3"/>
<circle cx="593.91" cy="818.67" r="0.8"/>
<circle cx="643.61" cy="821.09" r="1.9"/>
<circle cx="523.76" cy="855.9" r="1"/>
<circle cx="603.07" cy="891.37" r="1.3"/>
<circle cx="553.68" cy="809.14" r="1.9"/>
<circle cx="562.18" cy="884.26" r="1.1"/>
<circle cx="537.8" cy="772.75" r="0.7"/>
<circle cx="544.63" cy="795.82" r="1"/>
<circle cx="569.11" cy="881.04" r="1.3"/>
<circle cx="525.88" cy="817.72" r="1.4"/>
<circle cx="552.76" cy="775.44" r="1.2"/>
<circle cx="632.62" cy="794.6" r="1.2"/>
<circle cx="649.31" cy="849.34" r="1.2"/>
<circle cx="645.39" cy="777.33" r="0.9"/>
<circle cx="535.51" cy="846.06" r="0.7"/>
<circle cx="580.98" cy="836.67" r="1"/>
<circle cx="553.31" cy="776.62" r="1.4"/>
<circle cx="565.21" cy="833.58" r="0.9"/>
<circle cx="608.98" cy="826.7" r="1.6"/>
<circle cx="604.14" cy="857.07" r="1.3"/>
<circle cx="637.46" cy="862.51" r="1.9"/>
<circle cx="623.61" cy="810.03" r="1.2"/>
<circle cx="568.6" cy="822.1" r="1.2"/>
<circle cx="523.38" cy="766.02" r="1"/>
<circle cx="574.94" cy="771.78" r="1.6"/>
<circle cx="522.06" cy="756.93" r="0.9"/>
<circle cx="588.01" cy="885.39" r="1.6"/>
<circle cx="518.37" cy="875.28" r="1.6"/>
<circle cx="566.16" cy="842.8" r="1.1"/>
<circle cx="596.96" cy="821.1" r="0.8"/>
<circle cx="630.57" cy="891.37" r="1.3"/>
<circle cx="580.35" cy="799.12" r="0.9"/>
<circle cx="528.82" cy="803.29" r="1"/>
<circle cx="580.11" cy="850.6" r="1.4"/>
<circle cx="518.05" cy="885.66" r="1.4"/>
<circle cx="564.19" cy="850.34" r="0.7"/>
<circle cx="618.2" cy="797.26" r="1.9"/>
<circle cx="632.53" cy="851.17" r="1"/>
<circle cx="585.53" cy="879.88" r="1.1"/>
<circle cx="620.08" cy="829.01" r="1.4"/>
<circle cx="559.82" cy="787.1" r="1"/>
<circle cx="624.73" cy="867.7" r="1"/>
<circle cx="542.14" cy="823.62" r="0.7"/>
<circle cx="649.73" cy="863.88" r="1.3"/>
<circle cx="550.21" cy="850.67" r="1.1"/>
<circle cx="575.83" cy="883.77" r="1.1"/>
<circle cx="645.02" cy="806.27" r="1"/>
<circle cx="528.82" cy="820.55" r="1.1"/>
<circle cx="542.75" cy="841.4" r="1.6"/>
<circle cx="629.41" cy="821.82" r="1.9"/>
<circle cx="561.77" cy="843.98" r="1.9"/>
<circle cx="531.24" cy="809.51" r="1"/>
<circle cx="580.03" cy="781.07" r="1.9"/>
<circle cx="560.21" cy="865.33" r="1.2"/>
<circle cx="578.01" cy="857.55" r="0.8"/>
<circle cx="613.65" cy="779.92" r="0.9"/>
<circle cx="518.65" cy="836.9" r="1.3"/>
<circle cx="624.79" cy="776.69" r="1.6"/>
<circle cx="648.47" cy="845.89" r="1.1"/>
<circle cx="536.14" cy="831.14" r="0.7"/>
<circle cx="516.84" cy="888.36" r="1.9"/>
<circle cx="528.9" cy="858.38" r="0.9"/>
<circle cx="574.01" cy="874.93" r="1"/>
<circle cx="518.71" cy="785.71" r="1.4"/>
<circle cx="547.67" cy="836.3" r="1"/>
<circle cx="589.07" cy="869.85" r="0.7"/>
<circle cx="638.89" cy="804.8" r="1.3"/>
<circle cx="605.16" cy="867.26" r="1.4"/>
<circle cx="572.21" cy="881.16" r="1.4"/>
<circle cx="532.72" cy="777.46" r="1.4"/>
<circle cx="517.45" cy="816.49" r="0.9"/>
<circle cx="597.82" cy="861.98" r="0.9"/>
<circle cx="538.38" cy="821.01" r="0.8"/>
<circle cx="590.72" cy="801.04" r="1.4"/>
<circle cx="587.21" cy="822.23" r="0.8"/>
<circle cx="635.24" cy="764.59" r="1"/>
<circle cx="552.63" cy="861.46" r="1.4"/>
<circle cx="576.51" cy="760.67" r="0.8"/>
<circle cx="575.29" cy="839.84" r="1.4"/>
<circle cx="597.49" cy="783.9" r="1"/>
<circle cx="576.53" cy="829.11" r="1.3"/>
<circle cx="584.08" cy="790.43" r="1.4"/>
<circle cx="634.33" cy="884.47" r="1"/>
<circle cx="640.63" cy="877.78" r="1"/>
<circle cx="629.35" cy="775.47" r="0.8"/>
<circle cx="568.36" cy="799.68" r="1.9"/>
<circle cx="547.69" cy="766.8" r="1.9"/>
<circle cx="556.15" cy="773.47" r="0.9"/>
<circle cx="642.91" cy="844.02" r="1.1"/>
<circle cx="534.38" cy="876.44" r="1.3"/>
<circle cx="544.82" cy="885.87" r="1.2"/>
<circle cx="635.47" cy="778.94" r="1.9"/>
<circle cx="628.32" cy="778.76" r="1.2"/>
<circle cx="650.34" cy="811.58" r="1.2"/>
<circle cx="541.57" cy="800.03" r="1.1"/>
<circle cx="517.55" cy="831.92" r="1.3"/>
<circle cx="610.7" cy="808.94" r="1.4"/>
<circle cx="599.91" cy="826.26" r="0.8"/>
<circle cx="530.28" cy="881.27" r="1"/>
<circle cx="647.29" cy="771.09" r="1"/>
<circle cx="551.95" cy="879.56" r="0.9"/>
<circle cx="551.75" cy="774.44" r="1.2"/>
<circle cx="630.66" cy="848.43" r="1"/>
<circle cx="570.21" cy="829.56" r="1.4"/>
<circle cx="592.64" cy="851.74" r="0.8"/>
<circle cx="552.92" cy="865.16" r="0.9"/>
<circle cx="572.85" cy="766.7" r="0.7"/>
<circle cx="601.34" cy="865.44" r="0.8"/>
<circle cx="597.76" cy="787.01" r="1"/>
<circle cx="632.45" cy="818.34" r="1.1"/>
<circle cx="650.37" cy="813.46" r="1"/>
<circle cx="599.61" cy="762.75" r="1"/>
<circle cx="642.72" cy="888.13" r="1"/>
<circle cx="521.76" cy="784.22" r="1"/>
<circle cx="600.56" cy="828.81" r="1"/>
<circle cx="554.41" cy="824.61" r="0.9"/>
<circle cx="551.76" cy="865.72" r="1"/>
<circle cx="519.93" cy="759.4" r="1.4"/>
<circle cx="589.98" cy="782.55" r="1.3"/>
<circle cx="548.37" cy="817.43" r="1.9"/>
<circle cx="626.48" cy="815.42" r="1.3"/>
<circle cx="589.28" cy="877.23" r="1.4"/>
<circle cx="556.84" cy="786.04" r="1"/>
<circle cx="561.59" cy="869.59" r="1.9"/>
<circle cx="533.94" cy="890.87" r="0.7"/>
<circle cx="628.94" cy="758.83" r="1.9"/>
<circle cx="615.85" cy="791.51" r="0.9"/>
<circle cx="522.45" cy="846.97" r="1.2"/>
<circle cx="633.51" cy="847.69" r="1"/>
<circle cx="596.48" cy="850.69" r="0.7"/>
<circle cx="577.5" cy="778.23" r="1.3"/>
<circle cx="515.39" cy="806.2" r="1.1"/>
<circle cx="647.42" cy="830.97" r="1"/>
<circle cx="519.59" cy="876.38" r="1"/>
<circle cx="563.48" cy="757.04" r="1.2"/>
<circle cx="526.33" cy="794.67" r="1.9"/>
<circle cx="542.28" cy="825.24" r="0.7"/>
<circle cx="527.28" cy="867.53" r="0.9"/>
<circle cx="569.33" cy="762.54" r="0.7"/>
<circle cx="555.73" cy="842.16" r="0.8"/>
<circle cx="594.69" cy="828.55" r="0.9"/>
<circle cx="604.49" cy="853.85" r="1.6"/>
<circle cx="567.97" cy="801.06" r="1.3"/>
<circle cx="535.26" cy="854.95" r="1.9"/>
<circle cx="534.62" cy="868.59" r="1.4"/>
<circle cx="600.37" cy="856.26" r="1.4"/>
<circle cx="533.88" cy="827.82" r="1.4"/>
<circle cx="592.36" cy="866.97" r="0.7"/>
<circle cx="627.5" cy="835.98" r="1.9"/>
<circle cx="645.17" cy="843.95" r="0.8"/>
<circle cx="519.15" cy="774.92" r="1.1"/>
<circle cx="645.63" cy="807.89" r="1.3"/>
<circle cx="591" cy="841.9" r="1.9"/>
<circle cx="587.31" cy="790.01" r="1"/>
<circle cx="515.35" cy="864.91" r="1.4"/>
<circle cx="637.23" cy="769.35" r="1.4"/>
<circle cx="523.9" cy="856.66" r="1"/>
<circle cx="625.16" cy="871.47" r="1"/>
<circle cx="614.27" cy="784.69" r="1.9"/>
<circle cx="647.84" cy="823.78" r="1.2"/>
<circle cx="525.36" cy="880.18" r="1"/>
<circle cx="619.4" cy="840.44" r="1.9"/>
<circle cx="541.92" cy="838.1" r="1.1"/>
<circle cx="549.5" cy="857.53" r="1"/>
<circle cx="599.53" cy="774.97" r="1.3"/>
<circle cx="523.17" cy="793.29" r="1.9"/>
<circle cx="528.46" cy="786.38" r="1.3"/>
<circle cx="554.53" cy="826.84" r="1.3"/>
<circle cx="578.38" cy="860.77" r="1.4"/>
<circle cx="542.05" cy="889.34" r="1.3"/>
<circle cx="517.28" cy="819.04" r="1.4"/>
<circle cx="646.8" cy="817.76" r="1"/>
<circle cx="567.61" cy="881" r="1"/>
<circle cx="525.07" cy="769.13" r="1.4"/>
<circle cx="550.57" cy="805.58" r="1.6"/>
<circle cx="626.65" cy="825.78" r="0.8"/>
<circle cx="610.73" cy="788.23" r="1.3"/>
<circle cx="568.59" cy="778.44" r="1.3"/>
<circle cx="607.77" cy="811.79" r="0.9"/>
<circle cx="571.6" cy="807.82" r="0.8"/>
<circle cx="629.38" cy="757.14" r="1.1"/>
<circle cx="629.23" cy="773.15" r="1"/>
<circle cx="612.05" cy="878.97" r="1"/>
<circle cx="549.4" cy="765.7" r="1.2"/>
<circle cx="650.99" cy="836.67" r="1.1"/>
<circle cx="640.99" cy="859.22" r="0.7"/>
<circle cx="553.14" cy="763.89" r="1.9"/>
<circle cx="553.82" cy="883.58" r="1"/>
<circle cx="647.2" cy="815.97" r="1.1"/>
<circle cx="540.77" cy="807.45" r="1.2"/>
<circle cx="635.38" cy="866.84" r="1.9"/>
<circle cx="569.41" cy="875.47" r="1.4"/>
<circle cx="589.73" cy="854.33" r="0.7"/>
<circle cx="642.08" cy="812.53" r="1.6"/>
<circle cx="617.45" cy="844.16" r="1"/>
<circle cx="581.06" cy="880.37" r="1.4"/>
<circle cx="532.25" cy="820.83" r="1.1"/>
<circle cx="553.29" cy="791.53" r="1.9"/>
<circle cx="550.35" cy="845.72" r="1"/>
<circle cx="580.73" cy="847.47" r="0.8"/>
<circle cx="537.7" cy="778.79" r="1"/>
<circle cx="583.11" cy="866.82" r="1.4"/>
<circle cx="544.88" cy="879.61" r="1.3"/>
<circle cx="573.14" cy="831.07" r="1"/>
<circle cx="527.26" cy="803.2" r="0.8"/>
<circle cx="558.4" cy="806.77" r="1.6"/>
<circle cx="542.44" cy="759.62" r="1.2"/>
<circle cx="567.06" cy="857.89" r="1"/>
<circle cx="566.25" cy="802.69" r="0.7"/>
<circle cx="582.77" cy="834.66" r="1.1"/>
<circle cx="532.05" cy="825.06" r="1.9"/>
<circle cx="622.58" cy="871.8" r="0.8"/>
<circle cx="551.83" cy="790.54" r="1.2"/>
<circle cx="602.89" cy="815.37" r="1"/>
<circle cx="630.53" cy="875.09" r="0.7"/>
<circle cx="532.24" cy="814.47" r="1.3"/>
<circle cx="646.83" cy="823.22" r="0.8"/>
<circle cx="568.24" cy="882.39" r="1.4"/>
<circle cx="631.46" cy="888.54" r="1"/>
<circle cx="621.6" cy="787.2" r="0.9"/>
<circle cx="586.07" cy="849.25" r="1.9"/>
<circle cx="630.24" cy="878.07" r="0.8"/>
<circle cx="590.04" cy="762.25" r="0.9"/>
<circle cx="546.59" cy="881.46" r="1.9"/>
<circle cx="612.32" cy="887.21" r="1.9"/>
<circle cx="549.21" cy="843.05" r="0.8"/>
<circle cx="528.45" cy="797.57" r="1.6"/>
<circle cx="541.02" cy="792.22" r="1.6"/>
<circle cx="515.06" cy="829.67" r="1.3"/>
<circle cx="552.86" cy="799.73" r="1"/>
<circle cx="579.66" cy="788.69" r="1"/>
<circle cx="518.89" cy="812.66" r="1.9"/>
<circle cx="556.78" cy="759.85" r="1.3"/>
<circle cx="635.46" cy="844.53" r="0.8"/>
<circle cx="549.95" cy="847.26" r="1.1"/>
<circle cx="545.8" cy="761.52" r="1.1"/>
<circle cx="612.77" cy="805.96" r="1.2"/>
<circle cx="541.89" cy="864.82" r="1.4"/>
<circle cx="524.09" cy="824.02" r="1"/>
<circle cx="557.37" cy="867.93" r="1"/>
<circle cx="578.27" cy="792.78" r="1"/>
<circle cx="529.75" cy="841.34" r="1.6"/>
<circle cx="540.42" cy="787.14" r="1.2"/>
<circle cx="638.94" cy="764.54" r="1.6"/>
<circle cx="534.84" cy="810.17" r="1"/>
<circle cx="518.12" cy="837.62" r="1.2"/>
<circle cx="521.96" cy="765.04" r="1.2"/>
<circle cx="576.16" cy="853.31" r="1.1"/>
<circle cx="614.73" cy="891.97" r="0.9"/>
<circle cx="559.76" cy="782.02" r="1.4"/>
<circle cx="616.58" cy="761.22" r="1.9"/>
<circle cx="613.73" cy="870.52" r="1.1"/>
<circle cx="575.18" cy="771.65" r="0.8"/>
<circle cx="553.02" cy="804.49" r="0.8"/>
<circle cx="591.35" cy="859.64" r="1.2"/>
<circle cx="563.49" cy="868.14" r="1.2"/>
<circle cx="526.86" cy="852.39" r="1"/>
<circle cx="565.68" cy="881.4" r="1"/>
<circle cx="558.95" cy="856.73" r="1.3"/>
<circle cx="519.03" cy="812.52" r="1.9"/>
<circle cx="619.36" cy="762.4" r="0.7"/>
<circle cx="578.13" cy="865.67" r="0.7"/>
<circle cx="549.92" cy="858.08" r="1.6"/>
<circle cx="561.1" cy="793.77" r="1.6"/>
<circle cx="520.84" cy="857.97" r="1.1"/>
<circle cx="640.83" cy="797.17" r="1.6"/>
<circle cx="639.77" cy="842.74" r="0.8"/>
<circle cx="518.2" cy="788.57" r="1.3"/>
<circle cx="612.4" cy="819.96" r="1.2"/>
<circle cx="622.51" cy="880.59" r="1.3"/>
<circle cx="532.98" cy="824.13" r="0.7"/>
<circle cx="624.25" cy="856.89" r="0.9"/>
<circle cx="597.64" cy="801.28" r="1.1"/>
<circle cx="577.68" cy="863.03" r="1.6"/>
<circle cx="525.67" cy="783.62" r="0.9"/>
<circle cx="548.6" cy="765.66" r="0.7"/>
<circle cx="580.53" cy="830.64" r="0.9"/>
<circle cx="648.46" cy="876.52" r="0.8"/>
<circle cx="550.99" cy="768.28" r="0.8"/>
<circle cx="572.27" cy="890.73" r="1.3"/>
<circle cx="538.5" cy="774.9" r="1.3"/>
<circle cx="599.42" cy="848.17" r="1.4"/>
<circle cx="630.3" cy="846.86" r="0.8"/>
<circle cx="621.14" cy="796.7" r="1"/>
<circle cx="592.14" cy="807.4" r="1"/>
<circle cx="542.04" cy="790.4" r="1"/>
<circle cx="546.99" cy="795" r="1.6"/>
<circle cx="540.55" cy="765.67" r="1"/>
<circle cx="650.12" cy="825.59" r="1"/>
<circle cx="603.41" cy="770.51" r="1.3"/>
<circle cx="649.92" cy="770.76" r="1.3"/>
<circle cx="635.18" cy="788.19" r="1.3"/>
<circle cx="639.48" cy="762.36" r="1"/>
<circle cx="546.63" cy="763.72" r="1.6"/>
<circle cx="647.47" cy="835.86" r="0.8"/>
<circle cx="565.62" cy="874.17" r="1.3"/>
<circle cx="597.06" cy="861.83" r="1.9"/>
<circle cx="643.75" cy="771.22" r="1.6"/>
<circle cx="611.6" cy="804.25" r="0.7"/>
<circle cx="565.14" cy="776.04" r="1"/>
<circle cx="651.13" cy="762.08" r="1.9"/>
<circle cx="639.43" cy="867.22" r="1.1"/>
<circle cx="570.63" cy="807.24" r="1.6"/>
<circle cx="557.44" cy="784.44" r="1.3"/>
<circle cx="589.57" cy="765.47" r="0.8"/>
<circle cx="623.33" cy="846.81" r="0.9"/>
<circle cx="601.99" cy="769.24" r="0.9"/>
<circle cx="569.1" cy="793.62" r="1"/>
<circle cx="605.89" cy="813.48" r="0.7"/>
<circle cx="557.46" cy="833.61" r="1.1"/>
<circle cx="571.32" cy="759.37" r="1.1"/>
<circle cx="602.71" cy="809.8" r="1.2"/>
<circle cx="542.65" cy="757.7" r="0.9"/>
<circle cx="572.64" cy="867.98" r="1.2"/>
<circle cx="593.62" cy="806.28" r="0.9"/>
<circle cx="532.61" cy="763.9" r="0.9"/>
<circle cx="602.19" cy="880.09" r="0.8"/>
<circle cx="592.95" cy="882.45" r="1.4"/>
<circle cx="538.29" cy="804.01" r="0.9"/>
<circle cx="585.91" cy="882.21" r="0.8"/>
<circle cx="567.18" cy="858.93" r="1"/>
<circle cx="556" cy="870.27" r="0.7"/>
<circle cx="647.82" cy="822.26" r="0.7"/>
<circle cx="597.69" cy="843.06" r="0.8"/>
<circle cx="638.1" cy="840.89" r="0.9"/>
<circle cx="602.14" cy="872.88" r="1.6"/>
<circle cx="570.01" cy="871.5" r="1.3"/>
<circle cx="539.83" cy="786.44" r="1.2"/>
<circle cx="642.78" cy="778.09" r="1.1"/>
<circle cx="531.67" cy="790.35" r="1"/>
<circle cx="520.5" cy="833.04" r="1.9"/>
<circle cx="520.1" cy="870.39" r="0.8"/>
<circle cx="568.02" cy="818.61" r="1.9"/>
<circle cx="620.91" cy="844.78" r="1"/>
<circle cx="594.28" cy="814.55" r="1.9"/>
<circle cx="564.97" cy="825.08" r="0.9"/>
<circle cx="518.08" cy="840.7" r="1.3"/>
<circle cx="578.29" cy="817.4" r="1.6"/>
<circle cx="621.17" cy="818.95" r="0.9"/>
<circle cx="625.33" cy="811.11" r="0.8"/>
<circle cx="532.4" cy="815.2" r="0.8"/>
<circle cx="624.21" cy="825.19" r="1.9"/>
<circle cx="520.45" cy="843.07" r="0.8"/>
<circle cx="640.54" cy="799.38" r="1.4"/>
<circle cx="525.8" cy="858.73" r="1.2"/>
<circle cx="603.84" cy="863.09" r="0.7"/>
<circle cx="631.68" cy="891.78" r="0.8"/>
<circle cx="541.29" cy="889.83" r="1.3"/>
<circle cx="554.12" cy="866.71" r="0.9"/>
<circle cx="608.39" cy="854.53" r="1"/>
<circle cx="523.83" cy="804.41" r="1"/>
<circle cx="536.53" cy="878.29" r="1"/>
<circle cx="638.21" cy="818.7" r="1"/>
<circle cx="583.33" cy="881.46" r="1"/>
<circle cx="595.54" cy="840.29" r="1"/>
<circle cx="558.37" cy="761.89" r="0.9"/>
<circle cx="569.87" cy="843.09" r="1"/>
<circle cx="607.51" cy="878.14" r="0.9"/>
<circle cx="622.83" cy="792.69" r="1.4"/>
<circle cx="521.52" cy="873.11" r="1.3"/>
<circle cx="590.54" cy="835.44" r="0.8"/>
<circle cx="549.24" cy="829.43" r="1.2"/>
<circle cx="615.44" cy="807.2" r="1.2"/>
<circle cx="649.86" cy="835.07" r="1.1"/>
<circle cx="559.98" cy="767.92" r="1"/>
<circle cx="538.98" cy="857.58" r="0.7"/>
<circle cx="555.28" cy="826.78" r="1"/>
<circle cx="602" cy="890.14" r="1.6"/>
<circle cx="641.4" cy="878.18" r="0.7"/>
<circle cx="616.7" cy="786.91" r="1"/>
<circle cx="598.84" cy="815.42" r="1.4"/>
<circle cx="564.51" cy="763.37" r="1.3"/>
<circle cx="545.86" cy="845.33" r="0.7"/>
<circle cx="522.31" cy="833.69" r="1"/>
<circle cx="529.39" cy="805.26" r="1"/>
<circle cx="571.2" cy="797.68" r="0.9"/>
<circle cx="542.72" cy="841.38" r="1.3"/>
<circle cx="536.51" cy="758.81" r="1"/>
<circle cx="611.29" cy="817.95" r="0.8"/>
<circle cx="601.86" cy="874.87" r="1"/>
<circle cx="569.67" cy="792.68" r="0.7"/>
<circle cx="522.55" cy="868.05" r="1.1"/>
<circle cx="595.93" cy="835.23" r="1.6"/>
<circle cx="642.59" cy="856.22" r="1"/>
<circle cx="537.39" cy="756.95" r="0.7"/>
<circle cx="587.32" cy="811.87" r="1"/>
<circle cx="536.59" cy="880.35" r="0.8"/>
<circle cx="516.58" cy="831.49" r="1"/>
<circle cx="534.28" cy="783.91" r="1.6"/>
<circle cx="602.47" cy="844.58" r="1.2"/>
<circle cx="625.72" cy="780.55" r="1"/>
<circle cx="523.59" cy="841.66" r="1.3"/>
<circle cx="612.37" cy="757.76" r="1.2"/>
<circle cx="616.43" cy="819.9" r="1.9"/>
<circle cx="576.55" cy="787.49" r="0.8"/>
<circle cx="550.52" cy="844.1" r="0.8"/>
<circle cx="560.61" cy="858.4" r="1"/>
<circle cx="611.87" cy="792.91" r="1.4"/>
<circle cx="607.45" cy="849.75" r="1.4"/>
<circle cx="647.32" cy="796.93" r="1"/>
<circle cx="526.54" cy="825.61" r="0.9"/>
<circle cx="550.38" cy="788.87" r="1"/>
<circle cx="643.62" cy="857.93" r="1.1"/>
<circle cx="541.05" cy="809.53" r="1.6"/>
<circle cx="547.49" cy="879.78" r="1.9"/>
<circle cx="640.48" cy="889.82" r="1.4"/>
<circle cx="578.87" cy="870.6" r="0.7"/>
<circle cx="631.74" cy="816.1" r="1"/>
<circle cx="592.61" cy="798.57" r="1"/>
<circle cx="568.25" cy="836.15" r="1.6"/>
<circle cx="639" cy="776.48" r="0.7"/>
<circle cx="530.15" cy="841.11" r="0.9"/>
<circle cx="561.89" cy="776.11" r="0.7"/>
<circle cx="519.11" cy="775.64" r="1.9"/>
<circle cx="601.27" cy="851.27" r="0.7"/>
<circle cx="523.86" cy="836.85" r="1.1"/>
<circle cx="542.06" cy="886.15" r="1.4"/>
<circle cx="636.34" cy="765.83" r="1.2"/>
<circle cx="529.49" cy="784.75" r="0.8"/>
<circle cx="519.51" cy="885.43" r="1.9"/>
<circle cx="526.82" cy="858.64" r="1.9"/>
<circle cx="554.05" cy="770.42" r="0.8"/>
<circle cx="622.81" cy="844.41" r="1"/>
<circle cx="558.38" cy="814.28" r="0.7"/>
<circle cx="562.71" cy="882.84" r="0.7"/>
<circle cx="612.42" cy="806.73" r="1.1"/>
<circle cx="619.71" cy="838.41" r="1.3"/>
<circle cx="630.9" cy="840.61" r="0.7"/>
<circle cx="622.41" cy="761.13" r="1.4"/>
<circle cx="620.22" cy="803.85" r="0.7"/>
<circle cx="588.19" cy="786.22" r="0.8"/>
<circle cx="593.18" cy="795.77" r="1.2"/>
<circle cx="515.08" cy="784.26" r="0.7"/>
<circle cx="515.49" cy="823.36" r="1.3"/>
<circle cx="609.62" cy="868.65" r="1.3"/>
<circle cx="595.64" cy="886.51" r="1.4"/>
<circle cx="550.4" cy="884.7" r="1"/>
<circle cx="625.98" cy="883.94" r="1"/>
<circle cx="582.8" cy="771.78" r="1.9"/>
<circle cx="619.38" cy="823.29" r="1.4"/>
<circle cx="622.12" cy="841.92" r="1.1"/>
<circle cx="527.86" cy="882.62" r="0.8"/>
<circle cx="572.42" cy="844.35" r="1.1"/>
<circle cx="542.98" cy="792.54" r="1.4"/>
<circle cx="583.19" cy="808.26" r="1.9"/>
<circle cx="546.72" cy="819.31" r="1.4"/>
<circle cx="595.84" cy="850.22" r="1.6"/>
<circle cx="602.96" cy="804.08" r="1.1"/>
<circle cx="585.99" cy="874.43" r="1.3"/>
<circle cx="605.11" cy="857.37" r="0.9"/>
<circle cx="578.01" cy="850.2" r="1"/>
<circle cx="593.81" cy="773.97" r="1.3"/>
<circle cx="602.47" cy="851.21" r="1.4"/>
<circle cx="541" cy="797.72" r="1.6"/>
<circle cx="535.96" cy="778.02" r="1"/>
<circle cx="613.43" cy="838.53" r="1.1"/>
<circle cx="536.83" cy="801.32" r="1"/>
<circle cx="550.15" cy="886.2" r="0.8"/>
<circle cx="537.33" cy="845.98" r="1"/>
<circle cx="567.25" cy="890.11" r="1"/>
<circle cx="614.81" cy="815.79" r="1"/>
<circle cx="529.79" cy="880.3" r="1"/>
<circle cx="543.03" cy="809.48" r="0.7"/>
<circle cx="516.62" cy="872.58" r="1.2"/>
<circle cx="609.38" cy="824.67" r="1.9"/>
<circle cx="555.26" cy="759.89" r="1"/>
<circle cx="597.16" cy="811.7" r="1"/>
<circle cx="638.62" cy="815.13" r="1.6"/>
<circle cx="594.94" cy="844.53" r="1"/>
<circle cx="605.9" cy="845.25" r="1.9"/>
<circle cx="610.29" cy="872.32" r="1.9"/>
<circle cx="539.63" cy="773.72" r="1.2"/>
<circle cx="557.55" cy="841.97" r="0.8"/>
<circle cx="636.81" cy="789.72" r="1.2"/>
<circle cx="612.07" cy="842.15" r="1"/>
<circle cx="630.64" cy="822.26" r="0.7"/>
<circle cx="599.59" cy="812.33" r="1.9"/>
<circle cx="604.98" cy="875.1" r="1.9"/>
<circle cx="559.6" cy="758.34" r="1.3"/>
<circle cx="638.64" cy="771.3" r="1"/>
<circle cx="588.93" cy="778.68" r="1"/>
<circle cx="585.64" cy="770.59" r="1.6"/>
<circle cx="577.14" cy="784.65" r="1.3"/>
<circle cx="584.69" cy="843.46" r="1.1"/>
<circle cx="585.98" cy="812.46" r="1.3"/>
<circle cx="543.52" cy="849.56" r="1.2"/>
<circle cx="584.9" cy="883.19" r="1.6"/>
<circle cx="563.33" cy="764.57" r="1"/>
<circle cx="566.93" cy="765.23" r="0.8"/>
<circle cx="571.93" cy="813.84" r="1.9"/>
<circle cx="562.88" cy="792.8" r="1"/>
<circle cx="556.25" cy="811.12" r="1.4"/>
<circle cx="647.27" cy="891.52" r="1.2"/>
<circle cx="577.86" cy="779.18" r="0.8"/>
<circle cx="625.2" cy="842.78" r="1.3"/>
<circle cx="602.4" cy="854.48" r="0.9"/>
<circle cx="563.01" cy="843.39" r="1.2"/>
<circle cx="578.68" cy="796.75" r="1.4"/>
<circle cx="603.41" cy="862.49" r="1.3"/>
<circle cx="563.23" cy="872.08" r="1"/>
<circle cx="610.85" cy="849.98" r="1.2"/>
<circle cx="607.39" cy="822.1" r="1"/>
<circle cx="563.67" cy="845.51" r="1.1"/>
<circle cx="580.24" cy="814.92" r="1.9"/>
<circle cx="526.54" cy="878.36" r="0.9"/>
<circle cx="641.44" cy="872.59" r="0.7"/>
<circle cx="526.52" cy="833.35" r="1.1"/>
<circle cx="621.73" cy="775.91" r="1.1"/>
<circle cx="601.17" cy="758.93" r="0.7"/>
<circle cx="543.48" cy="766.65" r="1"/>
<circle cx="548.97" cy="770.64" r="0.9"/>
<circle cx="631.28" cy="782.04" r="1.3"/>
<circle cx="562.1" cy="777.57" r="1.2"/>
<circle cx="622.77" cy="779.64" r="1.6"/>
<circle cx="648.04" cy="769.14" r="1.4"/>
<circle cx="622.28" cy="870.47" r="1"/>
<circle cx="582.27" cy="785.75" r="0.8"/>
<circle cx="615.99" cy="816.28" r="0.8"/>
<circle cx="590.53" cy="792.71" r="1"/>
<circle cx="627.59" cy="820.98" r="1.4"/>
<circle cx="522.86" cy="820.14" r="0.9"/>
<circle cx="610.33" cy="790.29" r="0.9"/>
<circle cx="588.41" cy="873.73" r="0.7"/>
<circle cx="536.75" cy="800.32" r="1.6"/>
<circle cx="582.7" cy="797.09" r="1.3"/>
<circle cx="565.99" cy="813.61" r="1.9"/>
<circle cx="525.17" cy="843.16" r="1.9"/>
<circle cx="602.99" cy="759.68" r="0.7"/>
<circle cx="607.9" cy="883.02" r="1.1"/>
<circle cx="625.07" cy="769.62" r="1.3"/>
<circle cx="580.94" cy="878.43" r="0.7"/>
<circle cx="543.97" cy="813.17" r="0.9"/>
<circle cx="561.04" cy="873.57" r="1.1"/>
<circle cx="561.4" cy="862.31" r="1.4"/>
<circle cx="619.89" cy="785.43" r="1.2"/>
<circle cx="561.49" cy="790.96" r="0.7"/>
<circle cx="627.54" cy="796.56" r="1.3"/>
<circle cx="569.91" cy="825.11" r="1"/>
<circle cx="633.84" cy="803.59" r="1"/>
<circle cx="604.08" cy="864.13" r="1.1"/>
<circle cx="541.1" cy="853.46" r="0.9"/>
<circle cx="594.8" cy="842.85" r="0.7"/>
<circle cx="569.25" cy="831.95" r="1.2"/>
<circle cx="589.21" cy="763.63" r="1"/>
<circle cx="529.68" cy="763.18" r="1.3"/>
<circle cx="597.83" cy="846" r="1.4"/>
<circle cx="638.86" cy="839.73" r="1.6"/>
<circle cx="534.94" cy="848.12" r="1.6"/>
<circle cx="634.3" cy="768.14" r="0.7"/>
<circle cx="605.78" cy="818.9" r="0.9"/>
<circle cx="528.71" cy="781.45" r="0.7"/>
<circle cx="572.34" cy="770.52" r="1.9"/>
<circle cx="516.73" cy="874.96" r="0.9"/>
<circle cx="622.07" cy="833.01" r="1"/>
<circle cx="632.41" cy="781.92" r="0.7"/>
<circle cx="558.29" cy="815.21" r="1.9"/>
<circle cx="593.69" cy="880.63" r="1.3"/>
<circle cx="592.22" cy="762.23" r="0.8"/>
<circle cx="620.33" cy="813.91" r="1.2"/>
<circle cx="575.73" cy="758.81" r="1.2"/>
<circle cx="595.81" cy="891.37" r="1.9"/>
<circle cx="648.53" cy="821.28" r="1.2"/>
<circle cx="589.67" cy="768.13" r="1.3"/>
<circle cx="543.82" cy="777.45" r="0.7"/>
<circle cx="573.08" cy="758.16" r="1.9"/>
<circle cx="531.48" cy="887.74" r="0.8"/>
<circle cx="544.64" cy="773.33" r="1.3"/>
<circle cx="517.32" cy="854.3" r="1"/>
<circle cx="576.32" cy="857.67" r="0.7"/>
<circle cx="564.75" cy="858.08" r="0.9"/>
<circle cx="614.32" cy="768.31" r="1.9"/>
<circle cx="590.86" cy="824.34" r="1.9"/>
<circle cx="641.93" cy="791.3" r="0.7"/>
<circle cx="612.62" cy="758.44" r="0.7"/>
<circle cx="635.25" cy="849.87" r="1.6"/>
<circle cx="525.76" cy="799.02" r="1.6"/>
<circle cx="537.52" cy="873.48" r="1.3"/>
<circle cx="597.87" cy="799.72" r="1.6"/>
<circle cx="614.06" cy="820.51" r="0.9"/>
<circle cx="534.64" cy="864.86" r="1.1"/>
<circle cx="644.87" cy="779.11" r="1.2"/>
<circle cx="579.89" cy="862.25" r="1.3"/>
<circle cx="643.65" cy="863.14" r="1.6"/>
<circle cx="560.39" cy="794.8" r="1.6"/>
<circle cx="647.6" cy="852.12" r="1.6"/>
<circle cx="560.14" cy="838.93" r="0.7"/>
<circle cx="628.16" cy="838.29" r="1"/>
<circle cx="594.56" cy="889.1" r="1"/>
<circle cx="566.22" cy="849.62" r="1.6"/>
<circle cx="620.01" cy="788.63" r="1.3"/>
<circle cx="553.5" cy="757.13" r="1"/>
<circle cx="551.42" cy="778.2" r="0.7"/>
<circle cx="554.21" cy="775.95" r="1.6"/>
<circle cx="534.93" cy="888.97" r="1.4"/>
<circle cx="608.18" cy="880.62" r="1.1"/>
<circle cx="587.73" cy="830.01" r="1.3"/>
<circle cx="623.54" cy="784.04" r="1"/>
<circle cx="557.07" cy="764.69" r="1.2"/>
<circle cx="578.3" cy="784.87" r="1"/>
<circle cx="594.8" cy="758.17" r="1.2"/>
<circle cx="577.54" cy="768.77" r="1.1"/>
<circle cx="620.11" cy="788.43" r="1.6"/>
<circle cx="585.89" cy="792.04" r="1.4"/>
<circle cx="558.64" cy="825.44" r="1"/>
<circle cx="540.67" cy="782.94" r="0.9"/>
<circle cx="624.7" cy="796.14" r="1.6"/>
<circle cx="591.8" cy="811.4" r="1.4"/>
<circle cx="631.66" cy="790.25" r="1.3"/>
<circle cx="565.86" cy="771.27" r="1.9"/>
<circle cx="578.04" cy="767.97" r="1.1"/>
<circle cx="596.27" cy="803.6" r="1.4"/>
<circle cx="597.62" cy="769.64" r="1"/>
<circle cx="649.84" cy="874.17" r="1.3"/>
<circle cx="594.84" cy="785.82" r="1"/>
<circle cx="572.94" cy="885.06" r="1.6"/>
<circle cx="626.47" cy="887.35" r="1"/>
<circle cx="629.86" cy="802.78" r="0.9"/>
<circle cx="566.43" cy="760.63" r="0.7"/>
<circle cx="590.84" cy="874.79" r="1.3"/>
<circle cx="581.23" cy="871.39" r="0.8"/>
<circle cx="632.48" cy="843.53" r="0.8"/>
<circle cx="611.14" cy="769.08" r="1.1"/>
<circle cx="591.81" cy="843.64" r="1.9"/>
<circle cx="583.91" cy="781.63" r="0.9"/>
<circle cx="565.44" cy="788.74" r="1"/>
<circle cx="538.35" cy="884.41" r="1.1"/>
<circle cx="522.98" cy="831.75" r="0.7"/>
<circle cx="628.97" cy="763.27" r="1.4"/>
<circle cx="611.58" cy="844.46" r="1.3"/>
<circle cx="522.5" cy="776.51" r="0.7"/>
<circle cx="642.89" cy="848.55" r="1"/>
<circle cx="595.26" cy="816.65" r="1.9"/>
<circle cx="529.26" cy="800.76" r="1"/>
<circle cx="568.04" cy="807.67" r="1.2"/>
<circle cx="537.87" cy="789.19" r="0.9"/>
<circle cx="639.47" cy="877.7" r="1.3"/>
<circle cx="612.62" cy="783.32" r="0.7"/>
<circle cx="536.29" cy="869.67" r="0.8"/>
<circle cx="642.15" cy="874.26" r="0.9"/>
<circle cx="620.95" cy="886.61" r="1.2"/>
<circle cx="629.66" cy="841.98" r="1.3"/>
<circle cx="647.38" cy="800.58" r="1"/>
<circle cx="579.96" cy="841.96" r="0.9"/>
<circle cx="560.13" cy="856.56" r="0.9"/>
<circle cx="612.14" cy="831.83" r="0.9"/>
<circle cx="574.71" cy="777.13" r="1.2"/>
<circle cx="571.01" cy="777.98" r="1"/>
<circle cx="592.7" cy="797.05" r="0.9"/>
<circle cx="550.42" cy="771.69" r="1.3"/>
<circle cx="637.96" cy="772.36" r="1.4"/>
<circle cx="522.65" cy="878.09" r="1.9"/>
<circle cx="640.96" cy="832.72" r="1"/>
<circle cx="531.14" cy="859.11" r="1.1"/>
<circle cx="573.77" cy="792.31" r="1"/>
<circle cx="640.94" cy="770.11" r="1"/>
<circle cx="571.53" cy="778.86" r="1"/>
<circle cx="534.57" cy="843.53" r="1.3"/>
<circle cx="624.86" cy="803.06" r="0.9"/>
<circle cx="575.26" cy="863.81" r="1.4"/>
<circle cx="553.92" cy="805.66" r="0.7"/>
<circle cx="639.16" cy="786.45" r="1.6"/>
<circle cx="539.52" cy="871.09" r="1.4"/>
<circle cx="619.87" cy="853.25" r="1"/>
<circle cx="596.74" cy="869.14" r="1.6"/>
<circle cx="614.48" cy="859.98" r="0.9"/>
<circle cx="542.97" cy="839.82" r="1.9"/>
<circle cx="625.48" cy="835.83" r="1"/>
<circle cx="516.27" cy="850.63" r="1.4"/>
<circle cx="570.51" cy="854.61" r="0.7"/>
<circle cx="585.54" cy="803.97" r="1"/>
<circle cx="629.61" cy="873.95" r="1.3"/>
<circle cx="527.21" cy="812.35" r="1.3"/>
<circle cx="533.06" cy="847.01" r="1"/>
<circle cx="540.25" cy="869.5" r="1.1"/>
<circle cx="519.9" cy="851.99" r="1.6"/>
<circle cx="595.95" cy="757.53" r="1.4"/>
</g><g filter="url(#glow2)" fill="#1c9a38">
<circle cx="641.9" cy="888.07" r="0.6"/>
<circle cx="531.36" cy="853.66" r="0.8"/>
<circle cx="621.06" cy="874.44" r="1"/>
<circle cx="617.27" cy="765.19" r="0.6"/>
<circle cx="644.89" cy="823.9" r="1"/>
<circle cx="518.39" cy="865.83" r="0.7"/>
<circle cx="517.72" cy="887.89" r="0.7"/>
<circle cx="599.25" cy="779.63" r="0.8"/>
<circle cx="549.02" cy="867.54" r="0.6"/>
<circle cx="517.55" cy="882.32" r="0.7"/>
<circle cx="550.52" cy="870.27" r="1"/>
<circle cx="578.11" cy="789.17" r="0.9"/>
<circle cx="528.92" cy="874.63" r="0.7"/>
<circle cx="521.05" cy="773.56" r="0.9"/>
<circle cx="594.73" cy="860.01" r="0.6"/>
<circle cx="531.53" cy="811.83" r="0.7"/>
<circle cx="588.69" cy="787.69" r="0.7"/>
<circle cx="534.96" cy="834.46" r="0.9"/>
<circle cx="537.29" cy="868.74" r="0.9"/>
<circle cx="609.44" cy="837.74" r="1"/>
<circle cx="586.52" cy="810.47" r="0.6"/>
<circle cx="620.75" cy="802.74" r="0.7"/>
<circle cx="629.15" cy="853.78" r="1"/>
<circle cx="624.5" cy="880.49" r="0.9"/>
<circle cx="630.39" cy="764.15" r="1"/>
<circle cx="534.88" cy="848.99" r="0.8"/>
<circle cx="548.87" cy="814.06" r="0.6"/>
<circle cx="564.55" cy="828.77" r="0.6"/>
<circle cx="559.09" cy="784.09" r="0.6"/>
<circle cx="545.62" cy="813.87" r="0.9"/>
<circle cx="620.71" cy="883.76" r="0.6"/>
<circle cx="625.16" cy="876.64" r="0.6"/>
<circle cx="519.58" cy="843.77" r="0.8"/>
<circle cx="639.97" cy="841.32" r="1"/>
<circle cx="624.76" cy="761.74" r="0.6"/>
<circle cx="549.04" cy="827.35" r="0.9"/>
<circle cx="547.14" cy="762.24" r="0.6"/>
<circle cx="556.51" cy="844.57" r="0.6"/>
<circle cx="523.12" cy="886.76" r="1"/>
<circle cx="637.72" cy="768.34" r="1"/>
<circle cx="587.63" cy="776.99" r="0.6"/>
<circle cx="584.61" cy="876.75" r="0.9"/>
<circle cx="593.56" cy="794.01" r="0.6"/>
<circle cx="615.78" cy="795.78" r="0.9"/>
<circle cx="598.01" cy="834.1" r="0.9"/>
<circle cx="542.31" cy="853.08" r="0.9"/>
<circle cx="636.41" cy="798.02" r="0.9"/>
<circle cx="578.8" cy="798.94" r="0.7"/>
<circle cx="560.36" cy="782.46" r="1"/>
<circle cx="567.11" cy="836.2" r="0.6"/>
<circle cx="640.82" cy="778.87" r="0.7"/>
<circle cx="559.04" cy="800.97" r="0.8"/>
<circle cx="553.71" cy="890.61" r="0.8"/>
<circle cx="522.65" cy="759.85" r="1"/>
<circle cx="524" cy="874.87" r="0.9"/>
<circle cx="604.51" cy="826.9" r="0.9"/>
<circle cx="563.15" cy="860.19" r="1"/>
<circle cx="545.58" cy="886.79" r="0.7"/>
<circle cx="571.68" cy="847.38" r="0.7"/>
<circle cx="606.92" cy="840.35" r="0.8"/>
<circle cx="626.79" cy="827.01" r="0.9"/>
<circle cx="551.51" cy="842.29" r="0.7"/>
<circle cx="571.18" cy="770.89" r="0.9"/>
<circle cx="619.22" cy="836.22" r="0.9"/>
<circle cx="569.06" cy="891.34" r="0.7"/>
<circle cx="571.84" cy="863.01" r="1"/>
<circle cx="597.65" cy="808.29" r="0.9"/>
<circle cx="609.27" cy="795.9" r="0.8"/>
<circle cx="554.81" cy="809.8" r="1"/>
<circle cx="596.03" cy="844.67" r="0.6"/>
<circle cx="622.14" cy="871.93" r="0.9"/>
<circle cx="566.77" cy="797.52" r="1"/>
<circle cx="556.32" cy="776.53" r="1"/>
<circle cx="566.27" cy="788.3" r="0.8"/>
<circle cx="559.03" cy="871.09" r="0.7"/>
<circle cx="645.53" cy="784.56" r="0.9"/>
<circle cx="636.33" cy="886.33" r="0.6"/>
<circle cx="521.36" cy="833.39" r="0.9"/>
<circle cx="555.75" cy="829.53" r="0.8"/>
<circle cx="588.27" cy="892.07" r="1"/>
<circle cx="627.4" cy="855.35" r="0.9"/>
<circle cx="567.97" cy="805.33" r="1"/>
<circle cx="607.04" cy="818.25" r="0.6"/>
<circle cx="607.07" cy="828.02" r="0.6"/>
<circle cx="570.7" cy="824.72" r="1"/>
<circle cx="641.4" cy="777.78" r="0.7"/>
<circle cx="646.31" cy="822.8" r="0.9"/>
<circle cx="619.45" cy="878.65" r="1"/>
<circle cx="561.67" cy="828.68" r="0.6"/>
<circle cx="538.16" cy="799.97" r="0.6"/>
<circle cx="627.45" cy="826.31" r="0.6"/>
<circle cx="604.27" cy="796.83" r="0.8"/>
<circle cx="626.7" cy="890.98" r="0.9"/>
<circle cx="600.89" cy="827.86" r="1"/>
<circle cx="543.21" cy="877.83" r="0.9"/>
<circle cx="539.75" cy="842.22" r="1"/>
<circle cx="529.43" cy="834.06" r="0.6"/>
<circle cx="609.15" cy="758.35" r="0.6"/>
<circle cx="556.69" cy="850.42" r="0.6"/>
<circle cx="639.85" cy="810.73" r="0.6"/>
<circle cx="594.77" cy="847.36" r="0.7"/>
<circle cx="538.77" cy="861.02" r="1"/>
<circle cx="551.15" cy="844.48" r="1"/>
<circle cx="584.98" cy="776.36" r="0.7"/>
<circle cx="570.91" cy="773.35" r="0.7"/>
<circle cx="585.54" cy="825.88" r="0.6"/>
<circle cx="528.54" cy="779.99" r="1"/>
<circle cx="581.72" cy="820.2" r="0.9"/>
<circle cx="624.8" cy="765.31" r="0.6"/>
<circle cx="608.17" cy="835.28" r="0.7"/>
<circle cx="612.38" cy="804.81" r="0.7"/>
<circle cx="519.38" cy="842.03" r="1"/>
<circle cx="523.49" cy="782.85" r="1"/>
<circle cx="567.45" cy="764.3" r="0.9"/>
<circle cx="594.29" cy="886.83" r="0.9"/>
<circle cx="522.34" cy="789.16" r="0.7"/>
<circle cx="520.89" cy="882.93" r="0.7"/>
<circle cx="557.79" cy="878.61" r="0.9"/>
<circle cx="556.28" cy="838.49" r="0.9"/>
<circle cx="648.36" cy="766.04" r="0.9"/>
<circle cx="606.86" cy="836.08" r="0.9"/>
<circle cx="557.02" cy="875.42" r="0.9"/>
<circle cx="517.96" cy="874.46" r="0.6"/>
<circle cx="538.53" cy="805.43" r="0.7"/>
<circle cx="515.94" cy="876.36" r="0.9"/>
<circle cx="591.41" cy="772.46" r="1"/>
<circle cx="633.64" cy="802.38" r="0.6"/>
<circle cx="645.87" cy="814.08" r="0.8"/>
<circle cx="590.36" cy="809.35" r="0.9"/>
<circle cx="553.54" cy="789.01" r="0.6"/>
<circle cx="552.93" cy="760.32" r="0.7"/>
<circle cx="547.85" cy="774.48" r="0.7"/>
<circle cx="551.64" cy="869.96" r="0.7"/>
<circle cx="590.52" cy="820.14" r="0.7"/>
<circle cx="536.59" cy="804.69" r="0.9"/>
<circle cx="566.25" cy="886.67" r="0.7"/>
<circle cx="555.4" cy="821.34" r="0.7"/>
<circle cx="545.87" cy="818.19" r="0.7"/>
<circle cx="643.26" cy="892.02" r="1"/>
<circle cx="637.47" cy="836.46" r="0.8"/>
<circle cx="587.75" cy="811.62" r="1"/>
<circle cx="543.86" cy="875.02" r="0.6"/>
<circle cx="607.26" cy="769.28" r="0.8"/>
<circle cx="615.17" cy="860.46" r="0.6"/>
<circle cx="604.49" cy="833.76" r="0.8"/>
<circle cx="516.94" cy="853.13" r="0.7"/>
<circle cx="620.65" cy="788.25" r="0.7"/>
<circle cx="605.2" cy="771.65" r="1"/>
<circle cx="639.41" cy="865.92" r="0.8"/>
<circle cx="541.17" cy="854.21" r="0.6"/>
<circle cx="545.75" cy="773.98" r="0.9"/>
<circle cx="553.37" cy="811.52" r="0.9"/>
<circle cx="620.49" cy="876.43" r="0.7"/>
<circle cx="642.53" cy="780.78" r="0.8"/>
<circle cx="607.5" cy="846.75" r="0.8"/>
<circle cx="637.11" cy="760.32" r="0.9"/>
<circle cx="548.75" cy="871.55" r="0.8"/>
<circle cx="638.35" cy="770.13" r="0.8"/>
<circle cx="530.6" cy="880.48" r="0.7"/>
<circle cx="611.99" cy="762.38" r="0.6"/>
<circle cx="597.81" cy="815.22" r="0.8"/>
<circle cx="536.18" cy="856.87" r="1"/>
<circle cx="557.26" cy="843.33" r="0.7"/>
<circle cx="591.82" cy="787.72" r="0.9"/>
<circle cx="612.54" cy="791.39" r="0.9"/>
<circle cx="606.21" cy="834.79" r="0.6"/>
<circle cx="530.14" cy="860.31" r="0.8"/>
<circle cx="637.67" cy="875.39" r="1"/>
<circle cx="597.66" cy="763.31" r="0.7"/>
<circle cx="607.7" cy="761.93" r="0.8"/>
<circle cx="543.53" cy="880.72" r="0.6"/>
<circle cx="571.75" cy="857.63" r="1"/>
<circle cx="627.82" cy="794.97" r="0.6"/>
<circle cx="562.46" cy="885.48" r="0.9"/>
<circle cx="641.64" cy="850.55" r="0.9"/>
<circle cx="584.2" cy="848.51" r="0.7"/>
<circle cx="573.26" cy="826.21" r="0.7"/>
<circle cx="581.6" cy="782.53" r="1"/>
<circle cx="550.49" cy="830.88" r="0.7"/>
<circle cx="589.01" cy="790.71" r="0.6"/>
<circle cx="537.8" cy="803.91" r="0.6"/>
<circle cx="542.34" cy="798.95" r="0.7"/>
<circle cx="608.4" cy="822.76" r="0.9"/>
<circle cx="547.31" cy="789.63" r="1"/>
<circle cx="609.12" cy="774.92" r="0.8"/>
<circle cx="610.01" cy="774.96" r="0.7"/>
<circle cx="594.95" cy="789.5" r="0.6"/>
<circle cx="589.6" cy="859.87" r="0.7"/>
<circle cx="607.14" cy="777.86" r="0.9"/>
<circle cx="629.28" cy="811.89" r="0.7"/>
<circle cx="530.5" cy="796.08" r="0.8"/>
<circle cx="581.2" cy="762.78" r="0.8"/>
<circle cx="556.31" cy="771.87" r="0.8"/>
<circle cx="575.94" cy="772.2" r="0.8"/>
<circle cx="575.54" cy="833.97" r="0.8"/>
<circle cx="537.8" cy="766.62" r="0.6"/>
<circle cx="578.73" cy="889.57" r="0.9"/>
<circle cx="526.34" cy="854" r="1"/>
<circle cx="550.93" cy="844.25" r="0.9"/>
<circle cx="581.44" cy="863.04" r="0.8"/>
<circle cx="516.03" cy="881.41" r="0.8"/>
<circle cx="600.43" cy="883.53" r="0.8"/>
<circle cx="603.88" cy="767.48" r="0.6"/>
<circle cx="518.35" cy="810.42" r="0.7"/>
<circle cx="555.27" cy="782.05" r="1"/>
<circle cx="630.13" cy="882.38" r="0.7"/>
<circle cx="528.82" cy="854.23" r="0.8"/>
<circle cx="616.04" cy="801.13" r="0.7"/>
<circle cx="603.1" cy="805.14" r="0.7"/>
<circle cx="565.11" cy="831.52" r="0.8"/>
<circle cx="629.05" cy="791.23" r="0.6"/>
<circle cx="520.52" cy="833.65" r="0.9"/>
<circle cx="638.23" cy="884.84" r="0.9"/>
<circle cx="572.53" cy="855.84" r="0.8"/>
<circle cx="597.01" cy="841.73" r="0.7"/>
<circle cx="608.64" cy="779.06" r="0.9"/>
<circle cx="601.66" cy="811.25" r="0.6"/>
<circle cx="630.8" cy="821.81" r="0.7"/>
<circle cx="613.4" cy="757.28" r="1"/>
<circle cx="631.44" cy="863.45" r="0.9"/>
<circle cx="534.41" cy="766.65" r="0.6"/>
<circle cx="585.02" cy="813.93" r="0.8"/>
<circle cx="523.45" cy="758.09" r="0.7"/>
<circle cx="638.07" cy="779.17" r="0.8"/>
<circle cx="515.47" cy="865.78" r="0.8"/>
<circle cx="592.22" cy="820.38" r="1"/>
<circle cx="559" cy="819.25" r="1"/>
<circle cx="638.71" cy="874.08" r="0.9"/>
<circle cx="645.95" cy="840.83" r="0.6"/>
<circle cx="613.38" cy="801.79" r="0.8"/>
<circle cx="591.88" cy="813.92" r="0.8"/>
<circle cx="580.4" cy="844.55" r="0.8"/>
<circle cx="632.79" cy="828.72" r="0.6"/>
<circle cx="630.46" cy="787.02" r="0.9"/>
<circle cx="609.1" cy="776.79" r="1"/>
<circle cx="565.59" cy="835.54" r="0.9"/>
<circle cx="563.95" cy="789.43" r="0.9"/>
<circle cx="568.9" cy="772.37" r="0.7"/>
<circle cx="646.86" cy="784.36" r="0.6"/>
<circle cx="545.05" cy="870.27" r="0.6"/>
<circle cx="540.45" cy="847.65" r="0.9"/>
<circle cx="545.83" cy="818.93" r="1"/>
<circle cx="592.93" cy="772.2" r="1"/>
<circle cx="638.79" cy="833.65" r="0.9"/>
<circle cx="607.48" cy="865.27" r="0.7"/>
<circle cx="632.55" cy="831.45" r="0.6"/>
<circle cx="600.27" cy="886.94" r="1"/>
<circle cx="528.81" cy="869.31" r="0.9"/>
<circle cx="589.06" cy="887.96" r="0.7"/>
<circle cx="591.61" cy="861.83" r="0.7"/>
<circle cx="565.77" cy="840.68" r="0.9"/>
<circle cx="547.18" cy="807.32" r="0.6"/>
<circle cx="610.54" cy="886.29" r="0.9"/>
<circle cx="555.77" cy="852.69" r="0.9"/>
<circle cx="638.69" cy="768.78" r="0.7"/>
<circle cx="591.6" cy="881.13" r="0.8"/>
<circle cx="537.79" cy="857.83" r="0.8"/>
<circle cx="624.46" cy="856.56" r="0.6"/>
<circle cx="627.39" cy="773.52" r="0.8"/>
<circle cx="584.82" cy="827.95" r="0.8"/>
<circle cx="613.24" cy="762.79" r="1"/>
<circle cx="563.06" cy="805.07" r="0.8"/>
<circle cx="624.31" cy="772.2" r="0.7"/>
<circle cx="549.59" cy="783.05" r="0.9"/>
<circle cx="517.8" cy="890.77" r="0.9"/>
<circle cx="530.37" cy="759.74" r="0.6"/>
<circle cx="524.95" cy="791.89" r="0.7"/>
<circle cx="590.42" cy="796.17" r="0.9"/>
<circle cx="628.83" cy="836.56" r="0.8"/>
<circle cx="588.26" cy="850.26" r="0.8"/>
<circle cx="644.17" cy="758.77" r="0.8"/>
<circle cx="650.4" cy="822.86" r="0.9"/>
<circle cx="633.85" cy="865.28" r="0.6"/>
<circle cx="525.06" cy="840.91" r="1"/>
<circle cx="568.39" cy="821.32" r="0.7"/>
<circle cx="609.31" cy="817.64" r="0.7"/>
<circle cx="633.85" cy="839.61" r="0.6"/>
<circle cx="564.08" cy="828.43" r="0.8"/>
<circle cx="636.71" cy="836.68" r="0.6"/>
<circle cx="543.7" cy="867.82" r="0.9"/>
<circle cx="560.05" cy="820.32" r="0.8"/>
<circle cx="557.73" cy="802.33" r="0.9"/>
<circle cx="560.38" cy="759.68" r="0.9"/>
<circle cx="634.29" cy="839.31" r="0.7"/>
<circle cx="613.95" cy="776.35" r="0.9"/>
<circle cx="552.14" cy="824.6" r="0.8"/>
<circle cx="563.52" cy="834.56" r="1"/>
<circle cx="645.29" cy="891.24" r="0.6"/>
<circle cx="639.58" cy="879.12" r="0.6"/>
<circle cx="633.76" cy="861.74" r="1"/>
<circle cx="601.37" cy="806.04" r="0.8"/>
<circle cx="622.95" cy="789.13" r="0.7"/>
<circle cx="607.73" cy="798.06" r="0.8"/>
<circle cx="615.66" cy="825.81" r="0.7"/>
<circle cx="562.65" cy="831.47" r="0.9"/>
<circle cx="560.47" cy="852.25" r="0.8"/>
<circle cx="635.3" cy="862.86" r="1"/>
<circle cx="564.94" cy="789.86" r="0.7"/>
<circle cx="650.69" cy="777.32" r="0.7"/>
<circle cx="515.89" cy="874.83" r="0.9"/>
</g></g>
<rect x="470.1" y="750.8" width="33.2" height="2.4" fill="#fff"/>
<rect x="470.1" y="888.7" width="33.2" height="2.4" fill="#fff"/>
<rect x="616.3" y="750.8" width="33.2" height="2.4" fill="#fff"/>
<rect x="616.3" y="888.7" width="33.2" height="2.4" fill="#fff"/>
</g>
</svg>
</body>
</html>
